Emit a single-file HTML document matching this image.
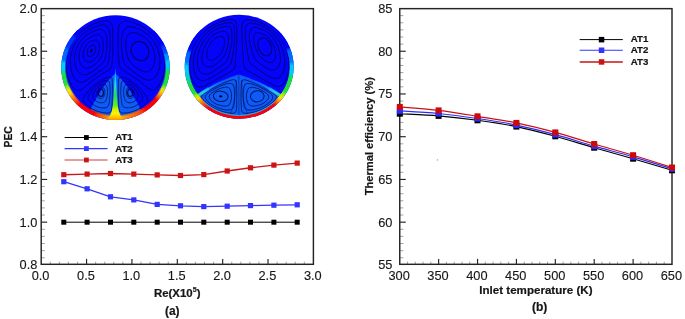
<!DOCTYPE html>
<html lang="en"><head><meta charset="utf-8"><title>PEC and thermal efficiency</title>
<style>html,body{margin:0;padding:0;background:#fff}svg{display:block;filter:blur(0.35px)}text{font-family:"Liberation Sans",Arial,Helvetica,sans-serif;fill:#161616;stroke:#161616;stroke-width:0.12px}.b{font-weight:bold;stroke:#161616;stroke-width:0.2px}</style></head><body>
<svg width="685" height="319" viewBox="0 0 685 319">
<rect width="685" height="319" fill="#ffffff"/>
<defs>
<filter id="bl" x="-10%" y="-10%" width="120%" height="120%"><feGaussianBlur stdDeviation="0.7"/></filter>
<filter id="bl2" x="-10%" y="-10%" width="120%" height="120%"><feGaussianBlur stdDeviation="0.45"/></filter>
<filter id="soft" x="-5%" y="-5%" width="110%" height="110%"><feGaussianBlur stdDeviation="0.55"/></filter>
</defs>
<clipPath id="cp1"><ellipse cx="115.5" cy="67.6" rx="54.3" ry="52.4"/></clipPath>
<g clip-path="url(#cp1)">
<rect x="55" y="10" width="125" height="115" fill="#0404fb"/>
<g filter="url(#bl2)">
<path d="M115.3 73.5 Q104 83 91 108 L91 122 L140 122 L140 108 Q127 83 115.3 73.5 Z" fill="#0d5cf8"/>
</g>
<g filter="url(#soft)">
<path d="M95.6 50.0Q95.6 50.6 95.4 51.1Q95.3 51.6 95.1 52.1Q94.9 52.6 94.7 53.0Q94.4 53.5 94.1 54.0Q93.7 54.5 93.3 55.0Q92.8 55.5 92.2 55.9Q91.5 56.4 90.7 56.5Q89.9 56.7 89.1 56.4Q88.3 56.1 87.9 55.4Q87.4 54.7 87.3 53.9Q87.2 53.1 87.2 52.4Q87.2 51.8 87.3 51.2Q87.4 50.6 87.5 50.1Q87.7 49.6 87.9 49.1Q88.1 48.6 88.4 48.2Q88.7 47.8 89.0 47.4Q89.4 47.0 89.9 46.6Q90.3 46.3 90.9 45.9Q91.5 45.6 92.2 45.3Q93.0 45.0 93.8 45.1Q94.6 45.2 95.1 45.9Q95.5 46.6 95.6 47.4Q95.7 48.2 95.7 48.8Q95.7 49.5 95.6 50.0Z" fill="none" stroke="#00003a" stroke-width="0.95" stroke-opacity="0.72"/>
<path d="M99.3 49.5Q99.2 50.6 99.0 51.6Q98.7 52.5 98.4 53.5Q98.1 54.4 97.6 55.3Q97.1 56.2 96.4 57.1Q95.8 58.0 94.9 58.9Q94.0 59.8 92.7 60.7Q91.5 61.5 89.9 61.9Q88.4 62.3 86.9 61.7Q85.4 61.1 84.6 59.7Q83.7 58.4 83.5 56.9Q83.2 55.4 83.2 54.1Q83.3 52.8 83.5 51.7Q83.7 50.6 84.0 49.6Q84.3 48.7 84.7 47.8Q85.1 46.9 85.6 46.1Q86.1 45.2 86.9 44.5Q87.6 43.8 88.4 43.1Q89.3 42.4 90.4 41.8Q91.5 41.1 92.9 40.6Q94.3 40.0 95.9 40.2Q97.4 40.3 98.3 41.6Q99.1 43.0 99.3 44.5Q99.4 46.0 99.4 47.3Q99.4 48.5 99.3 49.5Z" fill="none" stroke="#00003a" stroke-width="0.95" stroke-opacity="0.72"/>
<path d="M103.0 49.8Q102.9 50.6 102.8 51.3Q102.6 52.1 102.4 52.8Q102.3 53.5 102.1 54.2Q101.9 54.9 101.6 55.6Q101.4 56.3 101.1 57.0Q100.8 57.7 100.4 58.4Q100.0 59.1 99.5 59.8Q99.0 60.4 98.5 61.0Q97.9 61.7 97.3 62.3Q96.6 63.0 95.9 63.6Q95.2 64.3 94.3 64.9Q93.5 65.5 92.5 66.2Q91.5 66.8 90.4 67.3Q89.2 67.8 88.0 68.1Q86.7 68.3 85.5 68.1Q84.3 67.9 83.3 67.2Q82.3 66.5 81.5 65.5Q80.8 64.6 80.3 63.4Q79.8 62.3 79.5 61.1Q79.3 60.0 79.1 58.9Q79.0 57.8 79.0 56.8Q79.0 55.8 79.1 54.8Q79.2 53.9 79.4 53.0Q79.5 52.2 79.7 51.4Q79.9 50.6 80.1 49.9Q80.3 49.1 80.6 48.4Q80.8 47.7 81.1 47.1Q81.4 46.4 81.7 45.8Q82.0 45.1 82.3 44.5Q82.7 43.8 83.1 43.3Q83.6 42.7 84.1 42.2Q84.6 41.6 85.2 41.1Q85.7 40.6 86.3 40.1Q86.9 39.6 87.6 39.1Q88.3 38.6 89.0 38.1Q89.8 37.6 90.6 37.2Q91.5 36.7 92.5 36.3Q93.4 35.8 94.6 35.4Q95.7 35.0 96.9 34.8Q98.2 34.5 99.2 34.9Q100.3 35.4 101.0 36.3Q101.8 37.2 102.3 38.2Q102.8 39.3 103.0 40.5Q103.1 41.7 103.1 42.8Q103.1 43.9 103.1 44.8Q103.1 45.8 103.1 46.6Q103.1 47.5 103.1 48.3Q103.1 49.1 103.0 49.8Z" fill="none" stroke="#00003a" stroke-width="0.95" stroke-opacity="0.72"/>
<path d="M106.8 49.6Q106.6 50.6 106.5 51.6Q106.3 52.6 106.2 53.5Q106.0 54.5 105.8 55.5Q105.6 56.4 105.3 57.4Q105.1 58.4 104.7 59.4Q104.4 60.5 103.8 61.4Q103.3 62.4 102.5 63.2Q101.8 64.0 101.0 64.8Q100.1 65.6 99.2 66.4Q98.4 67.1 97.4 68.0Q96.4 68.8 95.2 69.6Q94.1 70.4 92.8 71.3Q91.5 72.2 90.0 73.0Q88.4 73.9 86.7 74.6Q84.9 75.2 83.2 75.0Q81.5 74.7 80.1 73.7Q78.7 72.7 77.7 71.3Q76.7 69.8 76.1 68.2Q75.5 66.6 75.2 65.0Q74.8 63.4 74.7 61.9Q74.5 60.4 74.6 59.0Q74.6 57.6 74.7 56.3Q74.9 55.1 75.1 53.9Q75.3 52.7 75.6 51.7Q75.8 50.6 76.2 49.6Q76.5 48.6 76.8 47.7Q77.2 46.8 77.6 45.9Q78.0 45.0 78.4 44.2Q78.9 43.3 79.4 42.5Q79.8 41.7 80.5 40.9Q81.1 40.2 81.8 39.5Q82.4 38.8 83.1 38.1Q83.9 37.4 84.7 36.7Q85.5 36.0 86.4 35.4Q87.2 34.7 88.2 34.1Q89.2 33.5 90.4 32.9Q91.5 32.3 92.8 31.7Q94.1 31.1 95.5 30.6Q97.0 30.1 98.7 29.7Q100.3 29.3 101.8 29.8Q103.2 30.3 104.3 31.4Q105.3 32.6 105.9 34.1Q106.5 35.6 106.7 37.2Q106.8 38.8 106.8 40.3Q106.8 41.8 106.8 43.0Q106.9 44.2 106.9 45.4Q106.9 46.5 106.9 47.5Q106.9 48.6 106.8 49.6Z" fill="none" stroke="#00003a" stroke-width="0.95" stroke-opacity="0.72"/>
<path d="M110.0 49.4Q109.9 50.6 109.8 51.8Q109.7 53.0 109.6 54.2Q109.4 55.4 109.2 56.6Q109.1 57.9 108.9 59.2Q108.7 60.5 108.4 61.9Q108.1 63.3 107.4 64.5Q106.6 65.7 105.6 66.7Q104.5 67.6 103.4 68.4Q102.3 69.2 101.1 70.1Q99.9 71.0 98.7 71.9Q97.5 72.8 96.1 73.8Q94.7 74.8 93.1 75.9Q91.5 77.0 89.6 78.3Q87.7 79.7 85.3 81.1Q82.9 82.6 80.7 82.3Q78.4 82.1 76.7 80.6Q75.0 79.1 73.9 77.1Q72.7 75.0 72.0 72.9Q71.3 70.8 70.9 68.8Q70.5 66.7 70.4 64.8Q70.2 62.9 70.3 61.1Q70.3 59.4 70.5 57.8Q70.8 56.2 71.0 54.7Q71.3 53.3 71.7 51.9Q72.1 50.6 72.5 49.4Q73.0 48.2 73.4 47.0Q73.9 45.9 74.4 44.8Q75.0 43.8 75.5 42.7Q76.1 41.7 76.7 40.7Q77.4 39.8 78.1 38.9Q78.9 38.0 79.7 37.1Q80.5 36.3 81.4 35.4Q82.3 34.6 83.2 33.8Q84.2 32.9 85.3 32.1Q86.3 31.4 87.6 30.6Q88.8 29.8 90.1 29.1Q91.5 28.4 93.1 27.7Q94.6 27.0 96.4 26.3Q98.2 25.7 100.2 25.2Q102.2 24.7 104.1 25.0Q106.0 25.4 107.4 26.8Q108.7 28.1 109.3 30.2Q109.8 32.3 110.0 34.3Q110.1 36.3 110.1 38.1Q110.1 39.9 110.1 41.4Q110.1 42.9 110.1 44.2Q110.1 45.6 110.1 46.9Q110.1 48.1 110.0 49.4Z" fill="none" stroke="#00003a" stroke-width="0.95" stroke-opacity="0.72"/>
<path d="M112.9 49.2Q112.8 50.6 112.7 52.0Q112.7 53.4 112.6 54.8Q112.6 56.2 112.5 57.7Q112.4 59.3 112.3 60.9Q112.1 62.5 112.0 64.4Q111.9 66.2 111.0 67.7Q110.1 69.2 108.6 70.1Q107.2 71.0 105.7 71.8Q104.2 72.7 102.8 73.5Q101.4 74.4 99.9 75.4Q98.4 76.4 96.8 77.5Q95.2 78.6 93.3 79.9Q91.5 81.3 89.2 83.2Q87.0 85.0 83.9 87.8Q80.8 90.5 78.0 90.3Q75.1 90.1 73.3 87.8Q71.4 85.4 70.1 82.8Q68.8 80.1 68.0 77.5Q67.3 74.8 66.8 72.4Q66.4 69.9 66.3 67.6Q66.1 65.2 66.2 63.1Q66.3 61.0 66.6 59.1Q66.9 57.2 67.3 55.5Q67.6 53.7 68.1 52.2Q68.6 50.6 69.2 49.2Q69.8 47.7 70.3 46.4Q70.9 45.1 71.6 43.9Q72.3 42.6 73.0 41.5Q73.7 40.3 74.5 39.2Q75.2 38.1 76.1 37.1Q77.0 36.1 77.9 35.1Q78.8 34.1 79.9 33.1Q80.9 32.2 82.0 31.2Q83.1 30.3 84.3 29.4Q85.6 28.5 87.0 27.6Q88.4 26.7 89.9 25.9Q91.5 25.0 93.3 24.2Q95.1 23.4 97.1 22.7Q99.2 22.0 101.5 21.4Q103.9 20.8 106.3 20.8Q108.7 20.7 110.4 22.3Q112.1 23.8 112.4 26.6Q112.8 29.3 112.8 31.8Q112.9 34.2 112.9 36.2Q112.9 38.3 112.9 40.0Q112.9 41.7 112.9 43.3Q112.9 44.9 112.9 46.3Q112.9 47.8 112.9 49.2Z" fill="none" stroke="#00003a" stroke-width="0.95" stroke-opacity="0.72"/>
<path d="M104.8 92.2Q104.8 92.7 104.7 93.2Q104.7 93.7 104.6 94.2Q104.4 94.7 104.3 95.3Q104.1 95.9 103.8 96.5Q103.5 97.1 102.9 97.6Q102.3 98.1 101.6 98.3Q100.9 98.5 100.2 98.4Q99.4 98.3 98.8 97.9Q98.1 97.5 97.7 96.9Q97.3 96.3 97.0 95.7Q96.7 95.1 96.7 94.5Q96.6 93.9 96.7 93.3Q96.8 92.7 97.0 92.2Q97.2 91.7 97.4 91.2Q97.6 90.8 97.8 90.3Q98.1 89.9 98.5 89.6Q98.9 89.2 99.4 88.9Q99.8 88.6 100.4 88.3Q100.9 87.9 101.6 87.7Q102.3 87.5 103.0 87.7Q103.6 88.0 104.0 88.6Q104.4 89.2 104.6 89.9Q104.7 90.5 104.8 91.1Q104.8 91.7 104.8 92.2Z" fill="none" stroke="#00003a" stroke-width="0.95" stroke-opacity="0.72"/>
<path d="M107.5 91.8Q107.5 92.7 107.4 93.6Q107.3 94.4 107.2 95.3Q107.1 96.3 106.9 97.4Q106.6 98.4 106.2 99.8Q105.7 101.1 104.6 101.9Q103.6 102.7 102.2 102.8Q100.9 103.0 99.6 102.7Q98.3 102.5 97.2 101.8Q96.0 101.1 95.1 100.2Q94.3 99.3 93.6 98.3Q93.0 97.3 92.9 96.1Q92.8 94.9 93.2 93.8Q93.6 92.7 94.1 91.8Q94.5 91.0 94.9 90.2Q95.4 89.5 95.9 88.8Q96.4 88.2 97.0 87.7Q97.7 87.1 98.4 86.6Q99.1 86.1 100.0 85.5Q100.9 85.0 102.1 84.5Q103.2 84.1 104.4 84.3Q105.7 84.5 106.3 85.5Q107.0 86.6 107.2 87.8Q107.4 89.0 107.5 89.9Q107.5 90.9 107.5 91.8Z" fill="none" stroke="#00003a" stroke-width="0.95" stroke-opacity="0.72"/>
<path d="M110.1 92.1Q110.1 92.7 110.1 93.3Q110.1 93.9 110.0 94.5Q110.0 95.1 110.0 95.8Q109.9 96.4 109.8 97.1Q109.8 97.8 109.7 98.6Q109.6 99.4 109.5 100.3Q109.4 101.2 109.3 102.3Q109.1 103.4 108.8 104.7Q108.5 105.9 107.7 106.6Q107.0 107.4 106.0 107.6Q105.0 107.9 103.9 107.9Q102.9 107.9 101.9 107.9Q100.9 107.8 99.9 107.6Q99.0 107.4 98.1 107.1Q97.1 106.8 96.3 106.4Q95.4 106.0 94.6 105.5Q93.8 105.0 93.1 104.4Q92.3 103.9 91.6 103.3Q91.0 102.6 90.3 102.0Q89.7 101.3 89.1 100.6Q88.5 99.8 88.2 98.9Q87.9 98.1 88.1 97.1Q88.3 96.1 88.8 95.2Q89.3 94.2 89.8 93.5Q90.2 92.7 90.6 92.1Q91.1 91.4 91.5 90.8Q91.9 90.3 92.3 89.8Q92.6 89.3 93.0 88.8Q93.4 88.3 93.7 87.9Q94.1 87.5 94.5 87.1Q94.9 86.7 95.3 86.3Q95.7 86.0 96.2 85.6Q96.6 85.3 97.1 85.0Q97.6 84.7 98.1 84.3Q98.5 83.9 99.1 83.6Q99.7 83.2 100.3 82.8Q100.9 82.5 101.6 82.0Q102.4 81.6 103.2 81.3Q104.0 81.0 105.0 80.8Q105.9 80.6 106.9 80.5Q107.9 80.5 108.6 81.1Q109.3 81.8 109.5 82.8Q109.8 83.8 109.8 84.8Q109.9 85.8 110.0 86.6Q110.0 87.4 110.1 88.2Q110.1 88.9 110.1 89.6Q110.1 90.2 110.1 90.9Q110.2 91.5 110.1 92.1Z" fill="none" stroke="#00003a" stroke-width="0.95" stroke-opacity="0.72"/>
<path d="M112.4 91.9Q112.4 92.7 112.4 93.5Q112.4 94.2 112.4 95.0Q112.4 95.8 112.3 96.6Q112.3 97.4 112.3 98.3Q112.2 99.3 112.2 100.3Q112.2 101.4 112.2 102.6Q112.1 103.9 112.0 105.5Q112.0 107.1 111.7 109.1Q111.5 111.1 110.4 112.1Q109.4 113.1 107.9 113.1Q106.4 113.1 105.0 112.9Q103.5 112.8 102.2 112.5Q100.9 112.3 99.7 111.9Q98.4 111.6 97.2 111.2Q96.1 110.7 95.0 110.2Q93.8 109.8 92.8 109.2Q91.7 108.6 90.7 108.0Q89.7 107.3 88.7 106.6Q87.7 105.9 86.8 105.1Q85.8 104.3 84.9 103.4Q83.9 102.5 83.3 101.4Q82.7 100.3 83.2 98.8Q83.7 97.3 84.6 96.0Q85.4 94.7 86.2 93.7Q87.0 92.7 87.7 91.9Q88.3 91.0 89.0 90.4Q89.6 89.7 90.1 89.1Q90.7 88.5 91.2 87.9Q91.7 87.4 92.2 86.9Q92.7 86.4 93.2 86.0Q93.7 85.5 94.2 85.1Q94.7 84.7 95.3 84.3Q95.8 83.9 96.4 83.5Q96.9 83.1 97.5 82.7Q98.1 82.2 98.8 81.8Q99.4 81.4 100.2 80.9Q100.9 80.5 101.8 80.0Q102.6 79.5 103.7 79.0Q104.7 78.5 106.0 78.0Q107.2 77.5 108.7 77.0Q110.2 76.6 111.1 77.4Q112.1 78.2 112.2 79.7Q112.3 81.3 112.3 82.6Q112.3 83.9 112.4 85.0Q112.4 86.1 112.4 87.0Q112.4 87.9 112.4 88.8Q112.4 89.6 112.4 90.4Q112.5 91.2 112.4 91.9Z" fill="none" stroke="#00003a" stroke-width="0.95" stroke-opacity="0.72"/>
<path d="M153.3 49.3Q153.9 51.0 154.3 53.0Q154.7 54.9 154.8 57.3Q154.9 59.6 154.5 62.3Q154.0 65.0 152.6 67.7Q151.1 70.3 148.5 71.4Q145.8 72.6 142.9 71.4Q140.0 70.3 137.8 68.8Q135.6 67.3 134.0 65.8Q132.3 64.3 131.0 62.8Q129.6 61.4 128.8 59.7Q127.9 58.0 127.4 56.2Q127.0 54.5 126.6 52.7Q126.3 51.0 126.0 49.1Q125.8 47.2 125.8 45.0Q125.7 42.8 126.1 40.1Q126.4 37.4 128.0 35.1Q129.5 32.8 132.3 32.6Q135.0 32.5 137.5 33.5Q140.0 34.5 141.9 35.6Q143.8 36.8 145.3 38.0Q146.8 39.2 148.0 40.5Q149.3 41.7 150.3 43.1Q151.3 44.5 152.0 46.0Q152.7 47.6 153.3 49.3Z" fill="none" stroke="#00003a" stroke-width="0.95" stroke-opacity="0.72"/>
<path d="M157.6 48.7Q158.5 51.0 159.1 53.6Q159.7 56.3 159.9 59.5Q160.2 62.6 159.6 66.4Q159.1 70.1 157.3 74.0Q155.5 77.9 151.8 79.7Q148.2 81.4 144.1 79.0Q140.0 76.6 137.1 74.5Q134.3 72.4 132.0 70.7Q129.7 68.9 127.6 67.2Q125.5 65.5 124.4 63.1Q123.2 60.7 122.8 58.2Q122.4 55.7 122.1 53.4Q121.8 51.0 121.6 48.5Q121.5 46.0 121.4 43.1Q121.4 40.3 121.7 36.6Q122.0 33.0 123.9 29.8Q125.9 26.6 129.7 26.7Q133.5 26.8 136.8 28.1Q140.0 29.4 142.5 31.0Q145.0 32.5 146.9 34.0Q148.9 35.6 150.5 37.3Q152.1 38.9 153.4 40.7Q154.7 42.5 155.8 44.5Q156.8 46.5 157.6 48.7Z" fill="none" stroke="#00003a" stroke-width="0.95" stroke-opacity="0.72"/>
<path d="M161.8 49.6Q162.3 51.0 162.8 52.5Q163.3 54.1 163.6 55.7Q164.0 57.4 164.2 59.3Q164.5 61.1 164.6 63.2Q164.7 65.2 164.5 67.5Q164.4 69.7 164.0 72.2Q163.6 74.6 162.8 77.1Q162.0 79.7 160.8 82.2Q159.5 84.8 157.7 87.1Q155.9 89.5 153.3 90.0Q150.6 90.6 147.6 88.0Q144.5 85.4 142.3 83.5Q140.0 81.6 138.2 80.2Q136.3 78.8 134.7 77.7Q133.1 76.6 131.7 75.6Q130.2 74.6 128.8 73.7Q127.4 72.8 126.0 72.0Q124.6 71.1 123.1 70.3Q121.6 69.4 120.6 68.1Q119.5 66.7 119.3 64.9Q119.0 63.1 118.9 61.5Q118.8 59.8 118.7 58.3Q118.6 56.7 118.5 55.3Q118.4 53.8 118.3 52.4Q118.2 51.0 118.2 49.6Q118.1 48.1 118.1 46.6Q118.0 45.1 118.1 43.5Q118.1 41.9 118.0 40.1Q118.0 38.3 118.1 36.3Q118.1 34.2 118.2 31.8Q118.3 29.3 118.8 26.6Q119.2 23.9 121.0 22.6Q122.8 21.2 125.2 21.2Q127.7 21.2 130.0 21.8Q132.3 22.4 134.4 23.2Q136.4 23.9 138.2 24.7Q140.0 25.5 141.6 26.4Q143.1 27.3 144.5 28.2Q145.9 29.1 147.1 30.0Q148.3 30.9 149.4 31.9Q150.5 32.8 151.5 33.8Q152.5 34.8 153.4 35.7Q154.3 36.7 155.1 37.7Q156.0 38.8 156.7 39.8Q157.5 40.9 158.1 42.1Q158.8 43.2 159.5 44.4Q160.1 45.6 160.7 46.9Q161.3 48.2 161.8 49.6Z" fill="none" stroke="#00003a" stroke-width="0.95" stroke-opacity="0.72"/>
<path d="M134.0 92.2Q134.2 92.7 134.3 93.3Q134.4 93.8 134.4 94.4Q134.3 95.1 134.0 95.7Q133.8 96.3 133.3 96.8Q132.9 97.4 132.3 97.8Q131.7 98.2 130.9 98.3Q130.2 98.4 129.5 98.2Q128.8 98.0 128.2 97.5Q127.7 97.1 127.4 96.5Q127.0 95.9 126.9 95.3Q126.7 94.7 126.6 94.2Q126.5 93.7 126.4 93.2Q126.4 92.7 126.3 92.2Q126.3 91.7 126.4 91.1Q126.4 90.5 126.6 89.9Q126.7 89.2 127.1 88.7Q127.6 88.1 128.2 87.8Q128.8 87.6 129.5 87.8Q130.2 88.0 130.7 88.4Q131.3 88.7 131.7 89.0Q132.1 89.3 132.5 89.7Q132.9 90.0 133.2 90.4Q133.5 90.8 133.7 91.3Q133.9 91.7 134.0 92.2Z" fill="none" stroke="#00003a" stroke-width="0.95" stroke-opacity="0.72"/>
<path d="M136.9 91.9Q137.3 92.7 137.7 93.8Q138.1 94.8 138.0 96.0Q138.0 97.2 137.3 98.2Q136.7 99.2 135.9 100.1Q135.0 101.0 133.9 101.7Q132.8 102.3 131.5 102.6Q130.2 102.9 128.9 102.7Q127.6 102.5 126.5 101.8Q125.4 101.0 124.9 99.7Q124.4 98.5 124.2 97.4Q124.0 96.3 123.9 95.4Q123.7 94.4 123.7 93.6Q123.6 92.7 123.6 91.8Q123.6 90.9 123.6 89.9Q123.7 88.9 123.9 87.7Q124.0 86.5 124.8 85.6Q125.5 84.6 126.7 84.4Q127.9 84.3 129.1 84.7Q130.2 85.2 131.1 85.7Q131.9 86.3 132.6 86.8Q133.3 87.3 134.0 87.8Q134.6 88.3 135.1 89.0Q135.6 89.6 136.0 90.3Q136.4 91.0 136.9 91.9Z" fill="none" stroke="#00003a" stroke-width="0.95" stroke-opacity="0.72"/>
<path d="M140.2 92.1Q140.6 92.7 141.0 93.4Q141.5 94.2 142.0 95.1Q142.5 96.0 142.7 97.0Q142.9 98.0 142.7 98.9Q142.4 99.8 141.8 100.5Q141.3 101.2 140.7 101.9Q140.0 102.5 139.4 103.1Q138.7 103.8 138.0 104.3Q137.2 104.9 136.4 105.4Q135.7 105.9 134.8 106.3Q133.9 106.6 133.0 107.0Q132.1 107.3 131.2 107.5Q130.2 107.6 129.2 107.7Q128.2 107.8 127.2 107.8Q126.2 107.8 125.2 107.6Q124.1 107.3 123.3 106.7Q122.5 106.0 122.2 104.8Q121.8 103.6 121.7 102.5Q121.5 101.4 121.4 100.4Q121.3 99.5 121.2 98.7Q121.2 97.9 121.1 97.2Q121.0 96.5 121.0 95.8Q120.9 95.2 120.9 94.6Q120.8 93.9 120.8 93.3Q120.8 92.7 120.8 92.1Q120.8 91.5 120.8 90.8Q120.8 90.2 120.8 89.5Q120.8 88.8 120.9 88.1Q120.9 87.3 121.0 86.5Q121.0 85.7 121.1 84.7Q121.2 83.7 121.5 82.7Q121.8 81.7 122.5 81.2Q123.2 80.6 124.3 80.7Q125.3 80.8 126.2 81.0Q127.1 81.2 128.0 81.5Q128.8 81.9 129.5 82.3Q130.2 82.7 130.8 83.1Q131.4 83.5 132.0 83.8Q132.5 84.1 133.0 84.5Q133.4 84.9 133.9 85.2Q134.4 85.5 134.8 85.8Q135.2 86.2 135.6 86.5Q136.0 86.9 136.4 87.3Q136.8 87.7 137.1 88.1Q137.5 88.5 137.9 88.9Q138.2 89.4 138.6 89.9Q138.9 90.4 139.4 90.9Q139.8 91.4 140.2 92.1Z" fill="none" stroke="#00003a" stroke-width="0.95" stroke-opacity="0.72"/>
<path d="M143.1 91.9Q143.7 92.7 144.5 93.7Q145.2 94.7 146.1 95.9Q147.0 97.2 147.6 98.7Q148.2 100.2 147.6 101.3Q147.1 102.4 146.1 103.3Q145.2 104.2 144.2 105.0Q143.3 105.8 142.3 106.5Q141.4 107.2 140.3 107.9Q139.3 108.5 138.3 109.1Q137.2 109.7 136.1 110.2Q135.0 110.7 133.8 111.1Q132.7 111.5 131.4 111.9Q130.2 112.2 128.9 112.5Q127.6 112.7 126.2 112.9Q124.8 113.0 123.3 113.1Q121.7 113.1 120.6 112.3Q119.4 111.5 119.1 109.5Q118.8 107.6 118.7 105.9Q118.6 104.3 118.6 103.0Q118.6 101.6 118.5 100.6Q118.5 99.5 118.5 98.5Q118.4 97.6 118.4 96.7Q118.4 95.9 118.3 95.1Q118.3 94.3 118.3 93.5Q118.3 92.7 118.3 91.9Q118.3 91.1 118.3 90.3Q118.3 89.5 118.3 88.7Q118.4 87.8 118.4 86.8Q118.4 85.9 118.4 84.8Q118.4 83.7 118.4 82.3Q118.5 81.0 118.7 79.4Q118.8 77.9 119.9 77.3Q121.0 76.7 122.5 77.2Q124.0 77.7 125.2 78.2Q126.5 78.7 127.5 79.2Q128.5 79.7 129.3 80.2Q130.2 80.7 130.9 81.2Q131.7 81.7 132.3 82.1Q132.9 82.5 133.5 82.9Q134.1 83.4 134.6 83.7Q135.2 84.1 135.7 84.5Q136.2 84.9 136.7 85.3Q137.2 85.7 137.6 86.2Q138.1 86.6 138.6 87.1Q139.1 87.6 139.6 88.1Q140.1 88.6 140.7 89.2Q141.2 89.8 141.8 90.4Q142.4 91.1 143.1 91.9Z" fill="none" stroke="#00003a" stroke-width="0.95" stroke-opacity="0.72"/>
<ellipse cx="91.5" cy="50.6" rx="1.1" ry="1.9" transform="rotate(20 91.5 50.6)" fill="#000022"/>
<ellipse cx="140.0" cy="51.0" rx="8.6" ry="10.0" transform="rotate(-30 140.0 51.0)" fill="none" stroke="#00003a" stroke-width="1.30" stroke-opacity="0.75"/>
<ellipse cx="100.9" cy="92.7" rx="2.5" ry="3.7" transform="rotate(0 100.9 92.7)" fill="none" stroke="#00003a" stroke-width="1.20" stroke-opacity="0.90"/>
<ellipse cx="130.2" cy="92.7" rx="2.5" ry="3.7" transform="rotate(0 130.2 92.7)" fill="none" stroke="#00003a" stroke-width="1.20" stroke-opacity="0.90"/>
</g>
<g filter="url(#bl)">
<g fill="none" stroke-width="9.00" stroke-linecap="butt" opacity="0.50"><path d="M77.78 29.91L76.05 31.60" stroke="rgb(4,4,251)"/><path d="M76.44 31.20L74.77 32.95" stroke="rgb(4,4,251)"/><path d="M75.15 32.54L73.54 34.34" stroke="rgb(4,4,251)"/><path d="M73.90 33.92L72.36 35.77" stroke="rgb(3,19,252)"/><path d="M72.71 35.34L71.24 37.25" stroke="rgb(1,42,254)"/><path d="M71.57 36.80L70.17 38.75" stroke="rgb(0,51,255)"/><path d="M70.48 38.30L69.15 40.30" stroke="rgb(0,51,255)"/><path d="M69.45 39.83L68.19 41.88" stroke="rgb(0,52,255)"/><path d="M68.47 41.40L67.29 43.49" stroke="rgb(0,53,255)"/><path d="M67.56 43.00L66.45 45.12" stroke="rgb(0,54,255)"/><path d="M66.70 44.63L65.67 46.79" stroke="rgb(0,55,255)"/><path d="M65.89 46.29L64.94 48.48" stroke="rgb(0,71,255)"/><path d="M65.15 47.97L64.28 50.19" stroke="rgb(0,96,255)"/><path d="M64.47 49.68L63.68 51.93" stroke="rgb(0,106,255)"/><path d="M63.86 51.41L63.15 53.68" stroke="rgb(0,106,255)"/><path d="M63.30 53.16L62.68 55.46" stroke="rgb(0,107,255)"/><path d="M62.81 54.92L62.27 57.24" stroke="rgb(0,108,255)"/><path d="M62.39 56.71L61.93 59.04" stroke="rgb(0,109,255)"/><path d="M62.02 58.50L61.65 60.85" stroke="rgb(0,110,255)"/><path d="M61.73 60.31L61.44 62.67" stroke="rgb(0,151,251)"/><path d="M61.50 62.12L61.30 64.49" stroke="rgb(0,205,245)"/><path d="M61.33 63.94L61.22 66.32" stroke="rgb(0,205,245)"/><path d="M61.23 65.77L61.20 68.15" stroke="rgb(0,205,245)"/><path d="M61.20 67.60L61.26 69.98" stroke="rgb(0,205,245)"/><path d="M61.23 69.43L61.37 71.80" stroke="rgb(0,212,204)"/><path d="M61.33 71.26L61.56 73.62" stroke="rgb(3,220,141)"/><path d="M61.50 73.08L61.81 75.44" stroke="rgb(23,224,81)"/><path d="M61.73 74.89L62.13 77.24" stroke="rgb(30,225,60)"/><path d="M62.02 76.70L62.51 79.03" stroke="rgb(30,225,60)"/><path d="M62.39 78.49L62.95 80.81" stroke="rgb(30,225,60)"/><path d="M62.81 80.28L63.46 82.57" stroke="rgb(30,225,60)"/><path d="M63.30 82.04L64.04 84.31" stroke="rgb(30,225,60)"/><path d="M63.86 83.79L64.67 86.04" stroke="rgb(39,226,57)"/><path d="M64.47 85.52L65.37 87.74" stroke="rgb(99,234,37)"/><path d="M65.15 87.23L66.13 89.41" stroke="rgb(156,240,19)"/><path d="M65.89 88.91L66.95 91.06" stroke="rgb(196,240,9)"/><path d="M66.70 90.57L67.83 92.68" stroke="rgb(232,238,0)"/><path d="M67.56 92.20L68.76 94.27" stroke="rgb(244,223,0)"/><path d="M68.47 93.80L69.75 95.83" stroke="rgb(255,206,0)"/><path d="M69.45 95.37L70.80 97.36" stroke="rgb(255,178,0)"/><path d="M70.48 96.90L71.91 98.84" stroke="rgb(255,150,0)"/><path d="M71.57 98.40L73.06 100.29" stroke="rgb(255,125,0)"/><path d="M72.71 99.86L74.27 101.70" stroke="rgb(255,102,0)"/><path d="M73.90 101.28L75.53 103.07" stroke="rgb(255,78,0)"/><path d="M75.15 102.66L76.84 104.39" stroke="rgb(255,52,0)"/><path d="M76.44 104.00L78.19 105.67" stroke="rgb(255,24,0)"/><path d="M77.78 105.29L79.59 106.91" stroke="rgb(255,0,0)"/><path d="M79.17 106.54L81.03 108.09" stroke="rgb(255,0,0)"/><path d="M80.60 107.74L82.52 109.23" stroke="rgb(255,0,0)"/><path d="M82.07 108.89L84.05 110.31" stroke="rgb(255,0,0)"/><path d="M83.58 109.99L85.61 111.35" stroke="rgb(255,0,0)"/><path d="M85.14 111.04L87.21 112.33" stroke="rgb(255,0,0)"/><path d="M86.73 112.04L88.84 113.25" stroke="rgb(255,0,0)"/><path d="M88.35 112.98L90.51 114.12" stroke="rgb(255,0,0)"/><path d="M90.01 113.87L92.21 114.93" stroke="rgb(255,0,0)"/><path d="M91.70 114.70L93.93 115.69" stroke="rgb(255,0,0)"/><path d="M93.41 115.47L95.69 116.39" stroke="rgb(255,16,0)"/><path d="M95.16 116.18L97.46 117.02" stroke="rgb(255,41,0)"/><path d="M96.93 116.84L99.26 117.60" stroke="rgb(255,61,0)"/><path d="M98.72 117.44L101.08 118.12" stroke="rgb(255,78,0)"/><path d="M100.53 117.97L102.92 118.57" stroke="rgb(255,94,0)"/><path d="M102.36 118.44L104.77 118.97" stroke="rgb(255,108,0)"/><path d="M104.21 118.85L106.63 119.30" stroke="rgb(255,121,0)"/><path d="M106.07 119.20L108.51 119.56" stroke="rgb(255,133,0)"/><path d="M107.94 119.49L110.39 119.77" stroke="rgb(255,146,0)"/><path d="M109.82 119.71L112.28 119.91" stroke="rgb(255,161,0)"/><path d="M111.71 119.87L114.17 119.98" stroke="rgb(255,178,0)"/><path d="M113.60 119.97L116.07 120.00" stroke="rgb(255,194,0)"/><path d="M115.50 120.00L117.96 119.95" stroke="rgb(255,194,0)"/><path d="M117.40 119.97L119.85 119.83" stroke="rgb(255,184,0)"/><path d="M119.29 119.87L121.74 119.65" stroke="rgb(255,174,0)"/><path d="M121.18 119.71L123.62 119.41" stroke="rgb(255,164,0)"/><path d="M123.06 119.49L125.49 119.11" stroke="rgb(255,155,0)"/><path d="M124.93 119.20L127.35 118.74" stroke="rgb(255,146,0)"/><path d="M126.79 118.85L129.19 118.31" stroke="rgb(255,138,0)"/><path d="M128.64 118.44L131.01 117.82" stroke="rgb(255,130,0)"/><path d="M130.47 117.97L132.82 117.26" stroke="rgb(255,121,0)"/><path d="M132.28 117.44L134.61 116.65" stroke="rgb(255,113,0)"/><path d="M134.07 116.84L136.37 115.98" stroke="rgb(255,104,0)"/><path d="M135.84 116.18L138.10 115.24" stroke="rgb(255,94,0)"/><path d="M137.59 115.47L139.81 114.45" stroke="rgb(255,84,0)"/><path d="M139.30 114.70L141.49 113.61" stroke="rgb(255,74,0)"/><path d="M140.99 113.87L143.14 112.70" stroke="rgb(255,64,0)"/><path d="M142.65 112.98L144.76 111.74" stroke="rgb(255,47,0)"/><path d="M144.27 112.04L146.33 110.73" stroke="rgb(255,27,0)"/><path d="M145.86 111.04L147.88 109.67" stroke="rgb(255,7,0)"/><path d="M147.42 109.99L149.38 108.55" stroke="rgb(255,0,0)"/><path d="M148.93 108.89L150.84 107.39" stroke="rgb(255,0,0)"/><path d="M150.40 107.74L152.25 106.17" stroke="rgb(255,0,0)"/><path d="M151.83 106.54L153.63 104.91" stroke="rgb(255,0,0)"/><path d="M153.22 105.29L154.95 103.60" stroke="rgb(255,0,0)"/><path d="M154.56 104.00L156.23 102.25" stroke="rgb(255,0,0)"/><path d="M155.85 102.66L157.46 100.86" stroke="rgb(255,0,0)"/><path d="M157.10 101.28L158.64 99.43" stroke="rgb(255,7,0)"/><path d="M158.29 99.86L159.76 97.95" stroke="rgb(255,52,0)"/><path d="M159.43 98.40L160.83 96.45" stroke="rgb(255,96,0)"/><path d="M160.52 96.90L161.85 94.90" stroke="rgb(255,136,0)"/><path d="M161.55 95.37L162.81 93.32" stroke="rgb(255,171,0)"/><path d="M162.53 93.80L163.71 91.71" stroke="rgb(255,204,0)"/><path d="M163.44 92.20L164.55 90.08" stroke="rgb(240,226,0)"/><path d="M164.30 90.57L165.33 88.41" stroke="rgb(210,240,3)"/><path d="M165.11 88.91L166.06 86.72" stroke="rgb(143,236,23)"/><path d="M165.85 87.23L166.72 85.01" stroke="rgb(81,231,43)"/><path d="M166.53 85.52L167.32 83.27" stroke="rgb(30,225,60)"/><path d="M167.14 83.79L167.85 81.52" stroke="rgb(30,225,60)"/><path d="M167.70 82.04L168.32 79.74" stroke="rgb(30,225,60)"/><path d="M168.19 80.28L168.73 77.96" stroke="rgb(30,225,60)"/><path d="M168.61 78.49L169.07 76.16" stroke="rgb(30,225,60)"/><path d="M168.98 76.70L169.35 74.35" stroke="rgb(30,225,60)"/><path d="M169.27 74.89L169.56 72.53" stroke="rgb(30,225,60)"/><path d="M169.50 73.08L169.70 70.71" stroke="rgb(27,224,69)"/><path d="M169.67 71.26L169.78 68.88" stroke="rgb(7,221,129)"/><path d="M169.77 69.43L169.80 67.05" stroke="rgb(0,214,191)"/><path d="M169.80 67.60L169.74 65.22" stroke="rgb(0,205,245)"/><path d="M169.77 65.77L169.63 63.40" stroke="rgb(0,205,245)"/><path d="M169.67 63.94L169.44 61.58" stroke="rgb(0,205,245)"/><path d="M169.50 62.12L169.19 59.76" stroke="rgb(0,200,246)"/><path d="M169.27 60.31L168.87 57.96" stroke="rgb(0,163,253)"/><path d="M168.98 58.50L168.49 56.17" stroke="rgb(0,149,255)"/><path d="M168.61 56.71L168.05 54.39" stroke="rgb(0,147,255)"/><path d="M168.19 54.92L167.54 52.63" stroke="rgb(0,138,255)"/><path d="M167.70 53.16L166.96 50.89" stroke="rgb(0,88,255)"/><path d="M167.14 51.41L166.33 49.16" stroke="rgb(0,69,255)"/><path d="M166.53 49.68L165.63 47.46" stroke="rgb(0,67,255)"/><path d="M165.85 47.97L164.87 45.79" stroke="rgb(0,66,255)"/><path d="M165.11 46.29L164.05 44.14" stroke="rgb(1,45,254)"/><path d="M164.30 44.63L163.17 42.52" stroke="rgb(3,15,252)"/><path d="M163.44 43.00L162.24 40.93" stroke="rgb(4,4,251)"/><path d="M162.53 41.40L161.25 39.37" stroke="rgb(4,4,251)"/><path d="M161.55 39.83L160.20 37.84" stroke="rgb(4,4,251)"/><path d="M160.52 38.30L159.09 36.36" stroke="rgb(4,4,251)"/><path d="M159.43 36.80L157.94 34.91" stroke="rgb(4,4,251)"/><path d="M158.29 35.34L156.73 33.50" stroke="rgb(4,4,251)"/><path d="M157.10 33.92L155.47 32.13" stroke="rgb(4,4,251)"/><path d="M155.85 32.54L154.16 30.81" stroke="rgb(4,4,251)"/></g>
<g fill="none" stroke-width="7.40" stroke-linecap="butt" opacity="1.00"><path d="M77.78 29.91L76.05 31.60" stroke="rgb(4,4,251)"/><path d="M76.44 31.20L74.77 32.95" stroke="rgb(4,4,251)"/><path d="M75.15 32.54L73.54 34.34" stroke="rgb(4,4,251)"/><path d="M73.90 33.92L72.36 35.77" stroke="rgb(3,19,252)"/><path d="M72.71 35.34L71.24 37.25" stroke="rgb(1,42,254)"/><path d="M71.57 36.80L70.17 38.75" stroke="rgb(0,51,255)"/><path d="M70.48 38.30L69.15 40.30" stroke="rgb(0,51,255)"/><path d="M69.45 39.83L68.19 41.88" stroke="rgb(0,52,255)"/><path d="M68.47 41.40L67.29 43.49" stroke="rgb(0,53,255)"/><path d="M67.56 43.00L66.45 45.12" stroke="rgb(0,54,255)"/><path d="M66.70 44.63L65.67 46.79" stroke="rgb(0,55,255)"/><path d="M65.89 46.29L64.94 48.48" stroke="rgb(0,71,255)"/><path d="M65.15 47.97L64.28 50.19" stroke="rgb(0,96,255)"/><path d="M64.47 49.68L63.68 51.93" stroke="rgb(0,106,255)"/><path d="M63.86 51.41L63.15 53.68" stroke="rgb(0,106,255)"/><path d="M63.30 53.16L62.68 55.46" stroke="rgb(0,107,255)"/><path d="M62.81 54.92L62.27 57.24" stroke="rgb(0,108,255)"/><path d="M62.39 56.71L61.93 59.04" stroke="rgb(0,109,255)"/><path d="M62.02 58.50L61.65 60.85" stroke="rgb(0,110,255)"/><path d="M61.73 60.31L61.44 62.67" stroke="rgb(0,151,251)"/><path d="M61.50 62.12L61.30 64.49" stroke="rgb(0,205,245)"/><path d="M61.33 63.94L61.22 66.32" stroke="rgb(0,205,245)"/><path d="M61.23 65.77L61.20 68.15" stroke="rgb(0,205,245)"/><path d="M61.20 67.60L61.26 69.98" stroke="rgb(0,205,245)"/><path d="M61.23 69.43L61.37 71.80" stroke="rgb(0,212,204)"/><path d="M61.33 71.26L61.56 73.62" stroke="rgb(3,220,141)"/><path d="M61.50 73.08L61.81 75.44" stroke="rgb(23,224,81)"/><path d="M61.73 74.89L62.13 77.24" stroke="rgb(30,225,60)"/><path d="M62.02 76.70L62.51 79.03" stroke="rgb(30,225,60)"/><path d="M62.39 78.49L62.95 80.81" stroke="rgb(30,225,60)"/><path d="M62.81 80.28L63.46 82.57" stroke="rgb(30,225,60)"/><path d="M63.30 82.04L64.04 84.31" stroke="rgb(30,225,60)"/><path d="M63.86 83.79L64.67 86.04" stroke="rgb(39,226,57)"/><path d="M64.47 85.52L65.37 87.74" stroke="rgb(99,234,37)"/><path d="M65.15 87.23L66.13 89.41" stroke="rgb(156,240,19)"/><path d="M65.89 88.91L66.95 91.06" stroke="rgb(196,240,9)"/><path d="M66.70 90.57L67.83 92.68" stroke="rgb(232,238,0)"/><path d="M67.56 92.20L68.76 94.27" stroke="rgb(244,223,0)"/><path d="M68.47 93.80L69.75 95.83" stroke="rgb(255,206,0)"/><path d="M69.45 95.37L70.80 97.36" stroke="rgb(255,178,0)"/><path d="M70.48 96.90L71.91 98.84" stroke="rgb(255,150,0)"/><path d="M71.57 98.40L73.06 100.29" stroke="rgb(255,125,0)"/><path d="M72.71 99.86L74.27 101.70" stroke="rgb(255,102,0)"/><path d="M73.90 101.28L75.53 103.07" stroke="rgb(255,78,0)"/><path d="M75.15 102.66L76.84 104.39" stroke="rgb(255,52,0)"/><path d="M76.44 104.00L78.19 105.67" stroke="rgb(255,24,0)"/><path d="M77.78 105.29L79.59 106.91" stroke="rgb(255,0,0)"/><path d="M79.17 106.54L81.03 108.09" stroke="rgb(255,0,0)"/><path d="M80.60 107.74L82.52 109.23" stroke="rgb(255,0,0)"/><path d="M82.07 108.89L84.05 110.31" stroke="rgb(255,0,0)"/><path d="M83.58 109.99L85.61 111.35" stroke="rgb(255,0,0)"/><path d="M85.14 111.04L87.21 112.33" stroke="rgb(255,0,0)"/><path d="M86.73 112.04L88.84 113.25" stroke="rgb(255,0,0)"/><path d="M88.35 112.98L90.51 114.12" stroke="rgb(255,0,0)"/><path d="M90.01 113.87L92.21 114.93" stroke="rgb(255,0,0)"/><path d="M91.70 114.70L93.93 115.69" stroke="rgb(255,0,0)"/><path d="M93.41 115.47L95.69 116.39" stroke="rgb(255,16,0)"/><path d="M95.16 116.18L97.46 117.02" stroke="rgb(255,41,0)"/><path d="M96.93 116.84L99.26 117.60" stroke="rgb(255,61,0)"/><path d="M98.72 117.44L101.08 118.12" stroke="rgb(255,78,0)"/><path d="M100.53 117.97L102.92 118.57" stroke="rgb(255,94,0)"/><path d="M102.36 118.44L104.77 118.97" stroke="rgb(255,108,0)"/><path d="M104.21 118.85L106.63 119.30" stroke="rgb(255,121,0)"/><path d="M106.07 119.20L108.51 119.56" stroke="rgb(255,133,0)"/><path d="M107.94 119.49L110.39 119.77" stroke="rgb(255,146,0)"/><path d="M109.82 119.71L112.28 119.91" stroke="rgb(255,161,0)"/><path d="M111.71 119.87L114.17 119.98" stroke="rgb(255,178,0)"/><path d="M113.60 119.97L116.07 120.00" stroke="rgb(255,194,0)"/><path d="M115.50 120.00L117.96 119.95" stroke="rgb(255,194,0)"/><path d="M117.40 119.97L119.85 119.83" stroke="rgb(255,184,0)"/><path d="M119.29 119.87L121.74 119.65" stroke="rgb(255,174,0)"/><path d="M121.18 119.71L123.62 119.41" stroke="rgb(255,164,0)"/><path d="M123.06 119.49L125.49 119.11" stroke="rgb(255,155,0)"/><path d="M124.93 119.20L127.35 118.74" stroke="rgb(255,146,0)"/><path d="M126.79 118.85L129.19 118.31" stroke="rgb(255,138,0)"/><path d="M128.64 118.44L131.01 117.82" stroke="rgb(255,130,0)"/><path d="M130.47 117.97L132.82 117.26" stroke="rgb(255,121,0)"/><path d="M132.28 117.44L134.61 116.65" stroke="rgb(255,113,0)"/><path d="M134.07 116.84L136.37 115.98" stroke="rgb(255,104,0)"/><path d="M135.84 116.18L138.10 115.24" stroke="rgb(255,94,0)"/><path d="M137.59 115.47L139.81 114.45" stroke="rgb(255,84,0)"/><path d="M139.30 114.70L141.49 113.61" stroke="rgb(255,74,0)"/><path d="M140.99 113.87L143.14 112.70" stroke="rgb(255,64,0)"/><path d="M142.65 112.98L144.76 111.74" stroke="rgb(255,47,0)"/><path d="M144.27 112.04L146.33 110.73" stroke="rgb(255,27,0)"/><path d="M145.86 111.04L147.88 109.67" stroke="rgb(255,7,0)"/><path d="M147.42 109.99L149.38 108.55" stroke="rgb(255,0,0)"/><path d="M148.93 108.89L150.84 107.39" stroke="rgb(255,0,0)"/><path d="M150.40 107.74L152.25 106.17" stroke="rgb(255,0,0)"/><path d="M151.83 106.54L153.63 104.91" stroke="rgb(255,0,0)"/><path d="M153.22 105.29L154.95 103.60" stroke="rgb(255,0,0)"/><path d="M154.56 104.00L156.23 102.25" stroke="rgb(255,0,0)"/><path d="M155.85 102.66L157.46 100.86" stroke="rgb(255,0,0)"/><path d="M157.10 101.28L158.64 99.43" stroke="rgb(255,7,0)"/><path d="M158.29 99.86L159.76 97.95" stroke="rgb(255,52,0)"/><path d="M159.43 98.40L160.83 96.45" stroke="rgb(255,96,0)"/><path d="M160.52 96.90L161.85 94.90" stroke="rgb(255,136,0)"/><path d="M161.55 95.37L162.81 93.32" stroke="rgb(255,171,0)"/><path d="M162.53 93.80L163.71 91.71" stroke="rgb(255,204,0)"/><path d="M163.44 92.20L164.55 90.08" stroke="rgb(240,226,0)"/><path d="M164.30 90.57L165.33 88.41" stroke="rgb(210,240,3)"/><path d="M165.11 88.91L166.06 86.72" stroke="rgb(143,236,23)"/><path d="M165.85 87.23L166.72 85.01" stroke="rgb(81,231,43)"/><path d="M166.53 85.52L167.32 83.27" stroke="rgb(30,225,60)"/><path d="M167.14 83.79L167.85 81.52" stroke="rgb(30,225,60)"/><path d="M167.70 82.04L168.32 79.74" stroke="rgb(30,225,60)"/><path d="M168.19 80.28L168.73 77.96" stroke="rgb(30,225,60)"/><path d="M168.61 78.49L169.07 76.16" stroke="rgb(30,225,60)"/><path d="M168.98 76.70L169.35 74.35" stroke="rgb(30,225,60)"/><path d="M169.27 74.89L169.56 72.53" stroke="rgb(30,225,60)"/><path d="M169.50 73.08L169.70 70.71" stroke="rgb(27,224,69)"/><path d="M169.67 71.26L169.78 68.88" stroke="rgb(7,221,129)"/><path d="M169.77 69.43L169.80 67.05" stroke="rgb(0,214,191)"/><path d="M169.80 67.60L169.74 65.22" stroke="rgb(0,205,245)"/><path d="M169.77 65.77L169.63 63.40" stroke="rgb(0,205,245)"/><path d="M169.67 63.94L169.44 61.58" stroke="rgb(0,205,245)"/><path d="M169.50 62.12L169.19 59.76" stroke="rgb(0,200,246)"/><path d="M169.27 60.31L168.87 57.96" stroke="rgb(0,163,253)"/><path d="M168.98 58.50L168.49 56.17" stroke="rgb(0,149,255)"/><path d="M168.61 56.71L168.05 54.39" stroke="rgb(0,147,255)"/><path d="M168.19 54.92L167.54 52.63" stroke="rgb(0,138,255)"/><path d="M167.70 53.16L166.96 50.89" stroke="rgb(0,88,255)"/><path d="M167.14 51.41L166.33 49.16" stroke="rgb(0,69,255)"/><path d="M166.53 49.68L165.63 47.46" stroke="rgb(0,67,255)"/><path d="M165.85 47.97L164.87 45.79" stroke="rgb(0,66,255)"/><path d="M165.11 46.29L164.05 44.14" stroke="rgb(1,45,254)"/><path d="M164.30 44.63L163.17 42.52" stroke="rgb(3,15,252)"/><path d="M163.44 43.00L162.24 40.93" stroke="rgb(4,4,251)"/><path d="M162.53 41.40L161.25 39.37" stroke="rgb(4,4,251)"/><path d="M161.55 39.83L160.20 37.84" stroke="rgb(4,4,251)"/><path d="M160.52 38.30L159.09 36.36" stroke="rgb(4,4,251)"/><path d="M159.43 36.80L157.94 34.91" stroke="rgb(4,4,251)"/><path d="M158.29 35.34L156.73 33.50" stroke="rgb(4,4,251)"/><path d="M157.10 33.92L155.47 32.13" stroke="rgb(4,4,251)"/><path d="M155.85 32.54L154.16 30.81" stroke="rgb(4,4,251)"/></g>
</g>
<linearGradient id="fg" x1="0" y1="68" x2="0" y2="120" gradientUnits="userSpaceOnUse"><stop offset="0" stop-color="#1070ff"/><stop offset="0.1" stop-color="#18b0ff"/><stop offset="0.3" stop-color="#18dcf0"/><stop offset="0.42" stop-color="#20e090"/><stop offset="0.52" stop-color="#20e050"/><stop offset="0.72" stop-color="#60ee20"/><stop offset="0.8" stop-color="#d8f000"/><stop offset="0.88" stop-color="#fff000"/><stop offset="0.95" stop-color="#ffc000"/><stop offset="1" stop-color="#ff9000"/></linearGradient>
<g filter="url(#bl2)">
<path d="M115.3 68 L116.1 80 L116.9 96 L117.8 106 L118.9 111.5 L120.6 115.5 L123 118.5 L124.4 121 L106.2 121 L107.6 118.5 L110 115.5 L111.7 111.5 L112.8 106 L113.7 96 L114.5 80 Z" fill="url(#fg)"/>
</g>
</g>
<clipPath id="cp2"><ellipse cx="239.2" cy="66.8" rx="54.5" ry="52.0"/></clipPath>
<g clip-path="url(#cp2)">
<rect x="180" y="10" width="120" height="115" fill="#0404fb"/>
<g filter="url(#bl2)">
<path d="M238.8 74.5 Q226 78 212 86.5 L194 98 L190 125 L288 125 L284.5 98 L266 86.5 Q252 78 238.8 74.5 Z" fill="#0d5cf8"/>
</g>
<g filter="url(#soft)">
<path d="M224.0 46.6Q223.7 47.7 223.3 48.6Q222.9 49.6 222.5 50.4Q222.1 51.2 221.6 52.1Q221.2 52.9 220.6 53.7Q220.0 54.6 219.2 55.5Q218.3 56.4 217.2 57.5Q216.0 58.5 214.3 59.5Q212.6 60.5 210.6 60.4Q208.7 60.4 207.7 58.7Q206.7 57.0 206.7 55.0Q206.7 53.1 207.0 51.5Q207.4 50.0 207.8 48.9Q208.2 47.7 208.7 46.8Q209.1 45.8 209.5 45.0Q210.0 44.2 210.5 43.5Q211.0 42.7 211.6 41.9Q212.2 41.1 213.0 40.2Q213.7 39.3 214.9 38.6Q216.0 37.9 217.5 37.3Q218.9 36.8 220.8 36.5Q222.7 36.2 223.6 37.7Q224.5 39.2 224.5 41.0Q224.5 42.8 224.5 44.1Q224.4 45.4 224.0 46.6Z" fill="none" stroke="#00003a" stroke-width="0.95" stroke-opacity="0.72"/>
<path d="M228.0 46.0Q227.5 47.7 227.0 49.1Q226.5 50.5 226.0 51.9Q225.5 53.2 224.9 54.6Q224.3 56.0 223.3 57.3Q222.3 58.6 221.0 59.9Q219.6 61.2 217.8 62.7Q216.0 64.2 213.4 65.8Q210.8 67.3 207.8 67.1Q204.9 66.9 203.4 64.4Q201.9 61.8 201.9 58.8Q201.9 55.9 202.4 53.5Q202.9 51.2 203.5 49.5Q204.1 47.7 204.8 46.3Q205.5 44.9 206.2 43.7Q206.9 42.4 207.7 41.3Q208.4 40.1 209.4 39.0Q210.3 37.8 211.5 36.5Q212.7 35.3 214.3 34.3Q216.0 33.3 218.2 32.4Q220.3 31.6 223.0 31.2Q225.8 30.8 227.1 33.0Q228.5 35.2 228.5 37.8Q228.5 40.5 228.5 42.4Q228.4 44.4 228.0 46.0Z" fill="none" stroke="#00003a" stroke-width="0.95" stroke-opacity="0.72"/>
<path d="M231.1 46.7Q230.9 47.7 230.6 48.6Q230.4 49.6 230.2 50.5Q229.9 51.4 229.7 52.4Q229.5 53.3 229.2 54.2Q228.9 55.2 228.6 56.2Q228.4 57.2 228.0 58.3Q227.6 59.3 227.0 60.3Q226.4 61.3 225.6 62.1Q224.8 63.0 223.9 63.7Q223.0 64.5 221.9 65.3Q220.9 66.1 219.8 67.0Q218.7 67.8 217.3 68.8Q216.0 69.7 214.4 70.7Q212.8 71.8 210.9 72.8Q209.0 73.8 207.0 74.1Q204.9 74.5 203.1 73.8Q201.3 73.2 200.1 71.6Q198.8 70.1 198.2 68.1Q197.6 66.1 197.4 64.1Q197.2 62.1 197.3 60.3Q197.4 58.4 197.6 56.8Q197.9 55.2 198.3 53.8Q198.6 52.4 199.0 51.1Q199.4 49.9 199.8 48.8Q200.2 47.7 200.7 46.7Q201.1 45.7 201.6 44.9Q202.1 44.0 202.5 43.1Q203.0 42.3 203.5 41.5Q204.0 40.8 204.5 40.0Q205.0 39.3 205.6 38.6Q206.1 37.8 206.7 37.1Q207.3 36.4 208.0 35.7Q208.6 34.9 209.4 34.2Q210.1 33.4 210.9 32.6Q211.8 31.9 212.7 31.2Q213.7 30.5 214.9 30.0Q216.0 29.4 217.3 28.8Q218.6 28.3 220.0 27.8Q221.5 27.3 223.1 26.9Q224.8 26.5 226.6 26.4Q228.4 26.3 229.9 27.0Q231.3 27.7 231.6 29.8Q231.9 31.8 231.9 33.7Q231.9 35.5 231.9 37.0Q231.9 38.5 231.9 39.8Q231.9 41.1 231.8 42.3Q231.8 43.5 231.5 44.6Q231.3 45.7 231.1 46.7Z" fill="none" stroke="#00003a" stroke-width="0.95" stroke-opacity="0.72"/>
<path d="M234.0 46.5Q233.8 47.7 233.6 48.8Q233.4 50.0 233.2 51.1Q233.1 52.3 232.9 53.4Q232.7 54.6 232.5 55.8Q232.3 57.1 232.0 58.5Q231.8 59.8 231.5 61.4Q231.2 62.9 230.4 64.2Q229.7 65.5 228.5 66.5Q227.4 67.4 226.1 68.2Q224.9 69.1 223.5 69.9Q222.2 70.8 220.7 71.8Q219.3 72.7 217.6 73.8Q216.0 74.8 214.1 76.0Q212.1 77.1 209.8 78.4Q207.4 79.7 204.8 80.4Q202.2 81.1 200.0 80.1Q197.9 79.1 196.5 76.9Q195.2 74.8 194.5 72.4Q193.8 69.9 193.5 67.5Q193.3 65.2 193.3 63.0Q193.4 60.8 193.6 58.8Q193.9 56.9 194.3 55.1Q194.7 53.4 195.2 51.9Q195.6 50.4 196.2 49.0Q196.7 47.7 197.2 46.5Q197.8 45.3 198.4 44.2Q198.9 43.1 199.6 42.1Q200.2 41.1 200.8 40.2Q201.4 39.3 202.1 38.4Q202.7 37.5 203.4 36.7Q204.1 35.8 204.9 35.0Q205.6 34.2 206.4 33.3Q207.2 32.5 208.1 31.6Q209.0 30.8 210.0 30.0Q211.0 29.1 212.2 28.4Q213.4 27.6 214.7 27.0Q216.0 26.3 217.5 25.6Q219.0 25.0 220.7 24.4Q222.4 23.9 224.3 23.4Q226.3 22.9 228.4 22.7Q230.5 22.5 232.2 23.4Q233.9 24.3 234.2 26.7Q234.5 29.2 234.6 31.3Q234.6 33.5 234.6 35.2Q234.5 37.0 234.6 38.5Q234.6 40.0 234.5 41.4Q234.5 42.8 234.3 44.0Q234.1 45.3 234.0 46.5Z" fill="none" stroke="#00003a" stroke-width="0.95" stroke-opacity="0.72"/>
<path d="M236.5 46.3Q236.4 47.7 236.3 49.0Q236.2 50.4 236.1 51.7Q236.0 53.1 235.9 54.5Q235.8 55.9 235.7 57.5Q235.6 59.0 235.5 60.8Q235.4 62.6 235.2 64.7Q235.0 66.7 234.2 68.5Q233.3 70.2 231.7 71.2Q230.1 72.1 228.4 72.9Q226.8 73.8 225.1 74.7Q223.5 75.5 221.7 76.5Q219.9 77.5 218.0 78.6Q216.0 79.7 213.7 81.0Q211.4 82.3 208.7 83.8Q205.9 85.4 202.6 86.6Q199.4 87.9 197.0 86.3Q194.6 84.7 193.3 81.9Q191.9 79.1 191.1 76.3Q190.2 73.5 189.9 70.7Q189.6 68.0 189.6 65.4Q189.6 62.9 189.9 60.7Q190.1 58.4 190.6 56.4Q191.0 54.4 191.5 52.6Q192.0 50.9 192.7 49.3Q193.3 47.7 193.9 46.3Q194.6 44.9 195.3 43.6Q196.0 42.3 196.7 41.2Q197.5 40.0 198.2 39.0Q199.0 37.9 199.8 36.9Q200.6 35.9 201.4 34.9Q202.3 34.0 203.2 33.1Q204.1 32.1 205.0 31.2Q206.0 30.3 207.0 29.4Q208.1 28.5 209.2 27.7Q210.4 26.8 211.7 26.0Q213.0 25.2 214.5 24.5Q216.0 23.7 217.7 23.0Q219.4 22.3 221.2 21.6Q223.1 21.0 225.3 20.5Q227.5 19.9 229.9 19.6Q232.4 19.3 234.3 20.3Q236.2 21.4 236.5 24.1Q236.8 26.9 236.8 29.3Q236.8 31.7 236.8 33.7Q236.8 35.7 236.8 37.4Q236.8 39.1 236.8 40.6Q236.7 42.1 236.6 43.6Q236.6 45.0 236.5 46.3Z" fill="none" stroke="#00003a" stroke-width="0.95" stroke-opacity="0.72"/>
<path d="M231.5 94.9Q231.6 96.3 231.5 97.7Q231.4 99.2 231.0 100.6Q230.7 102.1 230.0 103.5Q229.4 105.0 227.9 105.6Q226.4 106.2 224.8 106.1Q223.3 106.0 222.0 105.8Q220.7 105.5 219.5 105.2Q218.4 104.9 217.3 104.5Q216.2 104.1 215.1 103.5Q214.1 102.9 213.0 102.1Q211.9 101.4 210.9 100.3Q209.8 99.2 209.3 97.8Q208.8 96.3 209.7 95.0Q210.7 93.6 211.9 92.8Q213.2 92.0 214.2 91.4Q215.2 90.8 216.1 90.4Q217.0 89.9 217.9 89.4Q218.7 89.0 219.7 88.6Q220.7 88.2 221.9 87.9Q223.0 87.6 224.6 87.2Q226.1 86.9 227.7 87.3Q229.4 87.6 230.0 89.1Q230.7 90.5 231.0 92.0Q231.4 93.4 231.5 94.9Z" fill="none" stroke="#00003a" stroke-width="0.95" stroke-opacity="0.72"/>
<path d="M234.7 94.4Q234.9 96.3 234.7 98.2Q234.6 100.0 234.4 102.1Q234.2 104.1 233.7 106.5Q233.3 108.9 231.0 109.6Q228.8 110.3 226.5 110.0Q224.3 109.7 222.5 109.2Q220.7 108.7 219.2 108.2Q217.6 107.7 216.2 107.1Q214.8 106.5 213.5 105.7Q212.1 104.9 210.7 103.9Q209.3 102.9 207.9 101.5Q206.4 100.1 205.4 98.2Q204.5 96.3 206.2 94.6Q207.9 92.9 209.5 91.8Q211.2 90.8 212.5 90.1Q213.8 89.4 214.9 88.8Q216.0 88.2 217.1 87.6Q218.2 87.0 219.4 86.4Q220.7 85.8 222.3 85.3Q223.8 84.7 226.0 83.9Q228.3 83.2 230.8 83.4Q233.3 83.7 233.8 86.1Q234.2 88.5 234.4 90.5Q234.6 92.6 234.7 94.4Z" fill="none" stroke="#00003a" stroke-width="0.95" stroke-opacity="0.72"/>
<path d="M236.8 95.2Q236.9 96.3 236.8 97.4Q236.8 98.4 236.8 99.5Q236.7 100.6 236.7 101.8Q236.7 102.9 236.7 104.2Q236.6 105.5 236.6 107.0Q236.5 108.4 236.3 110.1Q236.2 111.8 235.0 112.6Q233.9 113.5 232.2 113.3Q230.5 113.2 229.0 113.0Q227.5 112.7 226.2 112.4Q225.0 112.2 223.8 111.9Q222.7 111.5 221.7 111.2Q220.7 110.9 219.8 110.6Q218.9 110.2 218.0 109.9Q217.2 109.5 216.3 109.1Q215.5 108.7 214.8 108.4Q214.0 108.0 213.2 107.5Q212.4 107.1 211.7 106.6Q210.9 106.1 210.1 105.6Q209.3 105.0 208.5 104.4Q207.7 103.8 206.8 103.1Q206.0 102.4 205.1 101.6Q204.2 100.7 203.2 99.7Q202.3 98.7 201.8 97.5Q201.3 96.3 202.5 95.2Q203.6 94.1 204.9 93.2Q206.1 92.4 207.2 91.8Q208.2 91.1 209.1 90.6Q209.9 90.1 210.7 89.7Q211.5 89.2 212.2 88.8Q212.8 88.4 213.5 88.1Q214.1 87.7 214.7 87.4Q215.4 87.1 216.0 86.7Q216.6 86.4 217.2 86.1Q217.9 85.7 218.5 85.4Q219.2 85.1 220.0 84.7Q220.7 84.4 221.5 84.0Q222.4 83.7 223.3 83.2Q224.3 82.8 225.5 82.3Q226.7 81.8 228.2 81.2Q229.8 80.6 231.8 79.9Q233.8 79.3 235.0 80.0Q236.3 80.7 236.4 82.5Q236.5 84.2 236.6 85.6Q236.6 87.1 236.7 88.4Q236.7 89.7 236.7 90.8Q236.7 92.0 236.8 93.1Q236.8 94.2 236.8 95.2Z" fill="none" stroke="#00003a" stroke-width="0.95" stroke-opacity="0.72"/>
<path d="M273.4 45.4Q273.9 46.5 274.4 47.9Q274.9 49.3 275.3 51.1Q275.7 52.9 275.7 55.3Q275.7 57.6 274.7 59.9Q273.6 62.1 271.3 62.5Q269.0 62.9 266.8 61.7Q264.6 60.5 263.1 59.1Q261.6 57.8 260.5 56.6Q259.4 55.5 258.6 54.4Q257.8 53.3 257.3 52.2Q256.7 51.0 256.3 49.9Q255.9 48.8 255.5 47.7Q255.1 46.5 254.7 45.1Q254.3 43.7 254.0 42.0Q253.7 40.2 253.7 37.9Q253.7 35.6 255.0 33.8Q256.3 32.0 258.6 32.6Q261.0 33.2 262.8 34.0Q264.6 34.8 266.0 35.6Q267.3 36.4 268.3 37.4Q269.2 38.4 270.0 39.4Q270.7 40.4 271.3 41.4Q271.9 42.3 272.4 43.3Q272.9 44.3 273.4 45.4Z" fill="none" stroke="#00003a" stroke-width="0.95" stroke-opacity="0.72"/>
<path d="M277.2 44.9Q277.9 46.5 278.6 48.5Q279.3 50.5 279.9 53.1Q280.4 55.6 280.5 59.0Q280.5 62.4 279.1 65.7Q277.6 69.1 274.3 69.9Q271.1 70.6 267.8 68.9Q264.6 67.1 262.3 65.3Q260.0 63.6 258.3 62.0Q256.5 60.5 255.2 58.8Q253.9 57.2 253.2 55.3Q252.6 53.5 252.1 51.7Q251.6 50.0 251.1 48.2Q250.7 46.5 250.3 44.5Q249.9 42.6 249.5 40.1Q249.2 37.6 249.3 34.4Q249.3 31.2 251.3 29.0Q253.2 26.8 256.5 27.6Q259.7 28.4 262.2 29.4Q264.6 30.5 266.4 31.6Q268.3 32.8 269.6 34.1Q271.0 35.4 272.0 36.7Q273.1 38.0 274.0 39.3Q274.8 40.6 275.6 42.0Q276.4 43.3 277.2 44.9Z" fill="none" stroke="#00003a" stroke-width="0.95" stroke-opacity="0.72"/>
<path d="M281.1 45.4Q281.5 46.5 282.0 47.7Q282.5 48.9 283.0 50.2Q283.4 51.5 283.8 53.1Q284.2 54.6 284.5 56.4Q284.8 58.1 284.9 60.2Q285.0 62.2 284.9 64.4Q284.7 66.6 284.2 69.0Q283.6 71.3 282.5 73.5Q281.4 75.7 279.7 77.1Q277.9 78.5 275.5 78.5Q273.2 78.5 270.8 77.3Q268.5 76.1 266.5 74.9Q264.6 73.7 263.0 72.6Q261.3 71.5 259.9 70.5Q258.4 69.5 257.1 68.6Q255.8 67.7 254.6 66.8Q253.4 66.0 252.2 65.1Q251.0 64.2 250.2 63.0Q249.3 61.8 248.9 60.3Q248.5 58.8 248.3 57.4Q248.1 56.1 247.8 54.8Q247.6 53.5 247.4 52.3Q247.2 51.2 247.0 50.0Q246.8 48.8 246.6 47.7Q246.5 46.5 246.3 45.3Q246.1 44.1 246.0 42.8Q245.8 41.5 245.7 40.0Q245.5 38.6 245.4 37.0Q245.3 35.4 245.2 33.5Q245.1 31.6 245.3 29.4Q245.4 27.3 246.4 25.6Q247.3 24.0 249.1 23.3Q250.8 22.6 253.0 23.1Q255.1 23.5 256.9 24.1Q258.7 24.6 260.3 25.3Q261.9 25.9 263.2 26.6Q264.6 27.2 265.8 27.9Q267.0 28.5 268.0 29.2Q269.0 29.9 269.9 30.7Q270.9 31.4 271.6 32.2Q272.4 33.0 273.1 33.7Q273.8 34.5 274.5 35.2Q275.1 36.0 275.7 36.8Q276.3 37.5 276.9 38.3Q277.4 39.1 278.0 39.9Q278.5 40.7 279.1 41.6Q279.6 42.5 280.1 43.4Q280.6 44.4 281.1 45.4Z" fill="none" stroke="#00003a" stroke-width="0.95" stroke-opacity="0.72"/>
<path d="M284.2 45.2Q284.8 46.5 285.4 47.9Q286.1 49.3 286.6 50.9Q287.1 52.5 287.6 54.4Q288.1 56.2 288.4 58.3Q288.7 60.4 288.8 62.8Q288.9 65.2 288.8 67.8Q288.6 70.5 288.0 73.3Q287.3 76.1 286.2 79.0Q285.0 81.9 283.1 84.2Q281.2 86.5 278.2 86.5Q275.3 86.4 272.4 84.7Q269.4 83.0 267.0 81.6Q264.6 80.2 262.5 79.0Q260.5 77.8 258.6 76.7Q256.8 75.7 255.0 74.7Q253.3 73.8 251.6 72.9Q249.9 71.9 248.2 71.0Q246.5 70.1 245.3 68.6Q244.1 67.0 243.8 64.8Q243.5 62.7 243.4 60.7Q243.3 58.8 243.2 57.1Q243.1 55.4 243.0 53.9Q242.9 52.3 242.7 50.9Q242.6 49.4 242.5 47.9Q242.4 46.5 242.3 45.0Q242.3 43.6 242.2 42.0Q242.1 40.5 242.1 38.8Q242.0 37.1 241.9 35.3Q241.9 33.4 241.8 31.2Q241.8 29.0 241.8 26.4Q241.9 23.8 243.1 21.9Q244.3 20.0 246.6 19.7Q249.0 19.4 251.4 20.0Q253.8 20.5 255.9 21.1Q258.0 21.7 259.7 22.4Q261.5 23.2 263.1 23.9Q264.6 24.6 265.9 25.4Q267.3 26.1 268.5 26.9Q269.6 27.7 270.7 28.5Q271.7 29.3 272.7 30.1Q273.6 30.9 274.4 31.8Q275.3 32.6 276.1 33.4Q276.9 34.2 277.6 35.1Q278.3 36.0 279.0 36.9Q279.7 37.8 280.4 38.7Q281.1 39.7 281.7 40.7Q282.4 41.7 283.0 42.9Q283.6 44.0 284.2 45.2Z" fill="none" stroke="#00003a" stroke-width="0.95" stroke-opacity="0.72"/>
<path d="M268.1 95.0Q269.1 96.3 268.6 97.8Q268.2 99.2 267.2 100.3Q266.1 101.4 265.0 102.2Q263.9 102.9 262.9 103.5Q261.8 104.1 260.7 104.5Q259.6 104.9 258.5 105.2Q257.3 105.6 256.0 105.8Q254.7 106.0 253.2 106.1Q251.6 106.1 250.1 105.5Q248.7 104.9 248.0 103.5Q247.3 102.1 247.0 100.6Q246.6 99.2 246.5 97.7Q246.3 96.3 246.5 94.9Q246.6 93.4 247.0 92.0Q247.3 90.5 248.0 89.1Q248.7 87.7 250.3 87.4Q252.0 87.0 253.5 87.4Q255.0 87.7 256.1 88.0Q257.3 88.3 258.3 88.7Q259.2 89.1 260.1 89.6Q260.9 90.0 261.8 90.5Q262.7 90.9 263.6 91.5Q264.6 92.1 265.9 92.9Q267.1 93.7 268.1 95.0Z" fill="none" stroke="#00003a" stroke-width="0.95" stroke-opacity="0.72"/>
<path d="M271.7 94.6Q273.4 96.3 272.6 98.2Q271.8 100.2 270.3 101.6Q268.8 102.9 267.4 103.9Q266.0 105.0 264.6 105.7Q263.2 106.5 261.8 107.1Q260.4 107.8 258.8 108.3Q257.3 108.8 255.5 109.3Q253.7 109.7 251.5 110.0Q249.2 110.3 247.0 109.6Q244.7 108.9 244.2 106.5Q243.7 104.1 243.5 102.1Q243.2 100.1 243.1 98.2Q243.1 96.3 243.1 94.4Q243.2 92.5 243.5 90.5Q243.7 88.5 244.2 86.1Q244.7 83.7 247.3 83.5Q249.8 83.4 252.0 84.1Q254.2 84.8 255.8 85.4Q257.3 86.0 258.5 86.6Q259.8 87.1 260.8 87.7Q261.9 88.3 263.0 88.9Q264.1 89.5 265.4 90.2Q266.6 90.9 268.3 91.9Q269.9 92.9 271.7 94.6Z" fill="none" stroke="#00003a" stroke-width="0.95" stroke-opacity="0.72"/>
<path d="M275.3 95.2Q276.5 96.3 276.3 97.5Q276.0 98.8 275.0 99.8Q274.1 100.8 273.2 101.6Q272.3 102.5 271.4 103.2Q270.5 103.9 269.7 104.6Q268.9 105.2 268.1 105.7Q267.2 106.2 266.5 106.7Q265.7 107.2 264.9 107.7Q264.1 108.1 263.3 108.5Q262.5 108.9 261.7 109.3Q260.9 109.6 260.0 110.0Q259.2 110.4 258.2 110.7Q257.3 111.0 256.3 111.4Q255.3 111.7 254.2 112.0Q253.0 112.2 251.8 112.5Q250.5 112.8 249.0 113.0Q247.5 113.3 245.8 113.4Q244.1 113.5 242.9 112.7Q241.7 111.9 241.6 110.2Q241.4 108.5 241.3 107.0Q241.3 105.6 241.2 104.3Q241.1 103.0 241.1 101.8Q241.0 100.7 241.0 99.6Q241.0 98.4 241.0 97.4Q241.0 96.3 241.0 95.2Q241.0 94.2 241.0 93.0Q241.0 91.9 241.1 90.8Q241.1 89.6 241.2 88.3Q241.3 87.0 241.3 85.6Q241.4 84.1 241.5 82.4Q241.6 80.6 243.0 80.0Q244.3 79.4 246.3 80.1Q248.4 80.8 249.9 81.4Q251.4 82.0 252.6 82.5Q253.7 83.0 254.7 83.4Q255.7 83.9 256.5 84.2Q257.3 84.6 258.0 84.9Q258.8 85.3 259.4 85.6Q260.1 85.9 260.7 86.2Q261.3 86.6 261.9 86.9Q262.5 87.3 263.2 87.6Q263.8 87.9 264.4 88.2Q265.0 88.6 265.7 89.0Q266.3 89.4 267.1 89.8Q267.8 90.2 268.7 90.7Q269.6 91.2 270.6 91.8Q271.6 92.5 272.8 93.3Q274.0 94.1 275.3 95.2Z" fill="none" stroke="#00003a" stroke-width="0.95" stroke-opacity="0.72"/>
<ellipse cx="220.7" cy="96.3" rx="1.6" ry="1.1" fill="#000018"/>
<ellipse cx="264.8" cy="46.8" rx="6.4" ry="9.4" transform="rotate(-24 264.8 46.8)" fill="none" stroke="#00003a" stroke-width="1.10" stroke-opacity="0.70"/>
<ellipse cx="220.7" cy="96.3" rx="7.4" ry="5.2" transform="rotate(6 220.7 96.3)" fill="none" stroke="#00003a" stroke-width="1.00" stroke-opacity="0.80"/>
<ellipse cx="257.3" cy="96.3" rx="6.8" ry="5.6" transform="rotate(-6 257.3 96.3)" fill="none" stroke="#00003a" stroke-width="1.00" stroke-opacity="0.80"/>
<path d="M238.9 75 L238.9 118" stroke="#00003a" stroke-width="0.7" stroke-opacity="0.6" fill="none"/>
<path d="M236.2 80 Q235.6 100 230 116 M241.6 80 Q242.2 100 248 116" stroke="#00003a" stroke-width="0.6" stroke-opacity="0.55" fill="none"/>
</g>
<linearGradient id="vl" x1="238.8" y1="0" x2="194" y2="0" gradientUnits="userSpaceOnUse"><stop offset="0" stop-color="#1a8cff" stop-opacity="0"/><stop offset="0.3" stop-color="#1a8cff" stop-opacity="0"/><stop offset="0.55" stop-color="#1a90ff" stop-opacity="0.75"/><stop offset="0.8" stop-color="#20d0f0"/><stop offset="0.92" stop-color="#30e070"/><stop offset="1" stop-color="#b0f020"/></linearGradient>
<linearGradient id="vr" x1="238.8" y1="0" x2="284.5" y2="0" gradientUnits="userSpaceOnUse"><stop offset="0" stop-color="#1a8cff" stop-opacity="0"/><stop offset="0.3" stop-color="#1a8cff" stop-opacity="0"/><stop offset="0.55" stop-color="#1a90ff" stop-opacity="0.75"/><stop offset="0.8" stop-color="#20d0f0"/><stop offset="0.92" stop-color="#30e070"/><stop offset="1" stop-color="#b0f020"/></linearGradient>
<g filter="url(#bl2)" fill="none" stroke-width="1.6">
<path d="M238.8 74.5 Q226 78 212 86.5 L194 98" stroke="url(#vl)"/>
<path d="M238.8 74.5 Q252 78 266 86.5 L284.5 98" stroke="url(#vr)"/>
<path d="M209 88.4 L194 98" stroke="url(#vl)" stroke-width="3.2" stroke-opacity="0.8"/>
<path d="M269 88.4 L284.5 98" stroke="url(#vr)" stroke-width="3.2" stroke-opacity="0.8"/>
</g>
<g filter="url(#bl)">
<g fill="none" stroke-width="7.40" stroke-linecap="butt" opacity="0.30"><path d="M201.34 29.39L199.60 31.07" stroke="rgb(4,4,251)"/><path d="M200.00 30.68L198.32 32.41" stroke="rgb(4,4,251)"/><path d="M198.70 32.01L197.09 33.79" stroke="rgb(4,4,251)"/><path d="M197.45 33.38L195.90 35.22" stroke="rgb(4,4,251)"/><path d="M196.25 34.79L194.78 36.68" stroke="rgb(4,4,251)"/><path d="M195.11 36.24L193.70 38.18" stroke="rgb(4,4,251)"/><path d="M194.02 37.72L192.68 39.71" stroke="rgb(4,4,251)"/><path d="M192.98 39.24L191.72 41.27" stroke="rgb(4,4,251)"/><path d="M192.00 40.80L190.81 42.87" stroke="rgb(4,4,251)"/><path d="M191.08 42.39L189.97 44.50" stroke="rgb(4,4,251)"/><path d="M190.22 44.00L189.18 46.15" stroke="rgb(4,4,251)"/><path d="M189.41 45.65L188.46 47.83" stroke="rgb(4,4,251)"/><path d="M188.67 47.32L187.79 49.53" stroke="rgb(4,4,251)"/><path d="M187.99 49.01L187.19 51.25" stroke="rgb(3,35,252)"/><path d="M187.37 50.73L186.66 52.99" stroke="rgb(1,83,254)"/><path d="M186.81 52.47L186.18 54.75" stroke="rgb(0,102,255)"/><path d="M186.32 54.22L185.78 56.52" stroke="rgb(0,106,255)"/><path d="M185.89 55.99L185.43 58.31" stroke="rgb(0,110,255)"/><path d="M185.53 57.77L185.15 60.10" stroke="rgb(0,113,255)"/><path d="M185.23 59.56L184.94 61.91" stroke="rgb(0,117,255)"/><path d="M185.00 61.36L184.80 63.72" stroke="rgb(0,125,254)"/><path d="M184.83 63.17L184.72 65.53" stroke="rgb(0,159,250)"/><path d="M184.73 64.99L184.70 67.34" stroke="rgb(0,193,246)"/><path d="M184.70 66.80L184.76 69.16" stroke="rgb(0,205,245)"/><path d="M184.73 68.61L184.88 70.97" stroke="rgb(0,205,245)"/><path d="M184.83 70.43L185.06 72.78" stroke="rgb(0,205,245)"/><path d="M185.00 72.24L185.31 74.58" stroke="rgb(0,205,245)"/><path d="M185.23 74.04L185.63 76.37" stroke="rgb(0,208,224)"/><path d="M185.53 75.83L186.01 78.14" stroke="rgb(0,213,193)"/><path d="M185.89 77.61L186.46 79.91" stroke="rgb(0,218,161)"/><path d="M186.32 79.38L186.97 81.66" stroke="rgb(5,221,135)"/><path d="M186.81 81.13L187.55 83.39" stroke="rgb(12,222,113)"/><path d="M187.37 82.87L188.18 85.10" stroke="rgb(20,223,90)"/><path d="M187.99 84.59L188.89 86.78" stroke="rgb(27,225,68)"/><path d="M188.67 86.28L189.65 88.45" stroke="rgb(30,225,60)"/><path d="M189.41 87.95L190.47 90.08" stroke="rgb(30,225,60)"/><path d="M190.22 89.60L191.35 91.69" stroke="rgb(30,225,60)"/><path d="M191.08 91.21L192.29 93.27" stroke="rgb(30,225,60)"/><path d="M192.00 92.80L193.29 94.82" stroke="rgb(30,225,60)"/><path d="M192.98 94.36L194.34 96.33" stroke="rgb(79,230,41)"/><path d="M194.02 95.88L195.45 97.80" stroke="rgb(154,237,11)"/><path d="M195.11 97.36L196.61 99.24" stroke="rgb(204,234,0)"/><path d="M196.25 98.81L197.82 100.64" stroke="rgb(242,224,0)"/><path d="M197.45 100.22L199.08 102.00" stroke="rgb(255,194,0)"/><path d="M198.70 101.59L200.39 103.31" stroke="rgb(255,155,0)"/><path d="M200.00 102.92L201.75 104.58" stroke="rgb(255,123,0)"/><path d="M201.34 104.21L203.16 105.81" stroke="rgb(255,91,0)"/><path d="M202.73 105.44L204.61 106.98" stroke="rgb(255,65,0)"/><path d="M204.17 106.63L206.10 108.11" stroke="rgb(255,42,0)"/><path d="M205.65 107.78L207.63 109.19" stroke="rgb(255,19,0)"/><path d="M207.17 108.87L209.20 110.21" stroke="rgb(255,0,0)"/><path d="M208.72 109.91L210.80 111.18" stroke="rgb(255,0,0)"/><path d="M210.32 110.90L212.45 112.10" stroke="rgb(255,0,0)"/><path d="M211.95 111.83L214.12 112.97" stroke="rgb(255,0,0)"/><path d="M213.61 112.71L215.82 113.77" stroke="rgb(255,0,0)"/><path d="M215.31 113.54L217.56 114.52" stroke="rgb(255,0,0)"/><path d="M217.03 114.30L219.31 115.21" stroke="rgb(255,0,0)"/><path d="M218.78 115.01L221.10 115.85" stroke="rgb(255,0,0)"/><path d="M220.56 115.66L222.90 116.42" stroke="rgb(255,0,0)"/><path d="M222.36 116.25L224.73 116.93" stroke="rgb(255,0,0)"/><path d="M224.18 116.79L226.57 117.38" stroke="rgb(255,0,0)"/><path d="M226.02 117.26L228.43 117.77" stroke="rgb(255,0,0)"/><path d="M227.87 117.66L230.30 118.10" stroke="rgb(255,0,0)"/><path d="M229.74 118.01L232.18 118.37" stroke="rgb(255,0,0)"/><path d="M231.62 118.29L234.07 118.57" stroke="rgb(255,0,0)"/><path d="M233.50 118.52L235.97 118.71" stroke="rgb(255,0,0)"/><path d="M235.40 118.67L237.87 118.78" stroke="rgb(255,0,0)"/><path d="M237.30 118.77L239.77 118.80" stroke="rgb(255,0,0)"/><path d="M239.20 118.80L241.67 118.75" stroke="rgb(255,0,0)"/><path d="M241.10 118.77L243.57 118.63" stroke="rgb(255,0,0)"/><path d="M243.00 118.67L245.46 118.46" stroke="rgb(255,0,0)"/><path d="M244.90 118.52L247.35 118.22" stroke="rgb(255,0,0)"/><path d="M246.78 118.29L249.23 117.91" stroke="rgb(255,0,0)"/><path d="M248.66 118.01L251.09 117.55" stroke="rgb(255,0,0)"/><path d="M250.53 117.66L252.94 117.12" stroke="rgb(255,0,0)"/><path d="M252.38 117.26L254.77 116.63" stroke="rgb(255,0,0)"/><path d="M254.22 116.79L256.58 116.08" stroke="rgb(255,0,0)"/><path d="M256.04 116.25L258.38 115.48" stroke="rgb(255,0,0)"/><path d="M257.84 115.66L260.14 114.81" stroke="rgb(255,0,0)"/><path d="M259.62 115.01L261.89 114.08" stroke="rgb(255,0,0)"/><path d="M261.37 114.30L263.60 113.30" stroke="rgb(255,0,0)"/><path d="M263.09 113.54L265.29 112.46" stroke="rgb(255,0,0)"/><path d="M264.79 112.71L266.94 111.56" stroke="rgb(255,0,0)"/><path d="M266.45 111.83L268.56 110.61" stroke="rgb(255,0,0)"/><path d="M268.08 110.90L270.15 109.60" stroke="rgb(255,0,0)"/><path d="M269.68 109.91L271.69 108.55" stroke="rgb(255,0,0)"/><path d="M271.23 108.87L273.20 107.44" stroke="rgb(255,0,0)"/><path d="M272.75 107.78L274.67 106.28" stroke="rgb(255,0,0)"/><path d="M274.23 106.63L276.09 105.08" stroke="rgb(255,6,0)"/><path d="M275.67 105.44L277.47 103.83" stroke="rgb(255,46,0)"/><path d="M277.06 104.21L278.80 102.53" stroke="rgb(255,87,0)"/><path d="M278.40 102.92L280.08 101.19" stroke="rgb(255,132,0)"/><path d="M279.70 101.59L281.31 99.81" stroke="rgb(255,175,0)"/><path d="M280.95 100.22L282.50 98.38" stroke="rgb(255,212,0)"/><path d="M282.15 98.81L283.62 96.92" stroke="rgb(231,230,0)"/><path d="M283.29 97.36L284.70 95.42" stroke="rgb(193,237,0)"/><path d="M284.38 95.88L285.72 93.89" stroke="rgb(141,236,16)"/><path d="M285.42 94.36L286.68 92.33" stroke="rgb(81,230,40)"/><path d="M286.40 92.80L287.59 90.73" stroke="rgb(30,225,60)"/><path d="M287.32 91.21L288.43 89.10" stroke="rgb(30,225,60)"/><path d="M288.18 89.60L289.22 87.45" stroke="rgb(30,225,60)"/><path d="M288.99 87.95L289.94 85.77" stroke="rgb(30,225,60)"/><path d="M289.73 86.28L290.61 84.07" stroke="rgb(30,225,60)"/><path d="M290.41 84.59L291.21 82.35" stroke="rgb(30,225,60)"/><path d="M291.03 82.87L291.74 80.61" stroke="rgb(30,225,60)"/><path d="M291.59 81.13L292.22 78.85" stroke="rgb(30,225,60)"/><path d="M292.08 79.38L292.62 77.08" stroke="rgb(20,223,89)"/><path d="M292.51 77.61L292.97 75.29" stroke="rgb(5,221,134)"/><path d="M292.87 75.83L293.25 73.50" stroke="rgb(0,215,181)"/><path d="M293.17 74.04L293.46 71.69" stroke="rgb(0,208,228)"/><path d="M293.40 72.24L293.60 69.88" stroke="rgb(0,205,245)"/><path d="M293.57 70.43L293.68 68.07" stroke="rgb(0,205,245)"/><path d="M293.67 68.61L293.70 66.26" stroke="rgb(0,205,245)"/><path d="M293.70 66.80L293.64 64.44" stroke="rgb(0,205,245)"/><path d="M293.67 64.99L293.52 62.63" stroke="rgb(0,177,248)"/><path d="M293.57 63.17L293.34 60.82" stroke="rgb(0,135,253)"/><path d="M293.40 61.36L293.09 59.02" stroke="rgb(0,118,255)"/><path d="M293.17 59.56L292.77 57.23" stroke="rgb(0,115,255)"/><path d="M292.87 57.77L292.39 55.46" stroke="rgb(0,112,255)"/><path d="M292.51 55.99L291.94 53.69" stroke="rgb(0,109,255)"/><path d="M292.08 54.22L291.43 51.94" stroke="rgb(0,106,255)"/><path d="M291.59 52.47L290.85 50.21" stroke="rgb(0,103,255)"/><path d="M291.03 50.73L290.22 48.50" stroke="rgb(0,93,255)"/><path d="M290.41 49.01L289.51 46.82" stroke="rgb(2,45,253)"/><path d="M289.73 47.32L288.75 45.15" stroke="rgb(4,4,251)"/><path d="M288.99 45.65L287.93 43.52" stroke="rgb(4,4,251)"/><path d="M288.18 44.00L287.05 41.91" stroke="rgb(4,4,251)"/><path d="M287.32 42.39L286.11 40.33" stroke="rgb(4,4,251)"/><path d="M286.40 40.80L285.11 38.78" stroke="rgb(4,4,251)"/><path d="M285.42 39.24L284.06 37.27" stroke="rgb(4,4,251)"/><path d="M284.38 37.72L282.95 35.80" stroke="rgb(4,4,251)"/><path d="M283.29 36.24L281.79 34.36" stroke="rgb(4,4,251)"/><path d="M282.15 34.79L280.58 32.96" stroke="rgb(4,4,251)"/><path d="M280.95 33.38L279.32 31.60" stroke="rgb(4,4,251)"/><path d="M279.70 32.01L278.01 30.29" stroke="rgb(4,4,251)"/></g>
<g fill="none" stroke-width="5.80" stroke-linecap="butt" opacity="1.00"><path d="M201.34 29.39L199.60 31.07" stroke="rgb(4,4,251)" stroke-width="7.8"/><path d="M200.00 30.68L198.32 32.41" stroke="rgb(4,4,251)" stroke-width="7.8"/><path d="M198.70 32.01L197.09 33.79" stroke="rgb(4,4,251)" stroke-width="7.8"/><path d="M197.45 33.38L195.90 35.22" stroke="rgb(4,4,251)" stroke-width="7.8"/><path d="M196.25 34.79L194.78 36.68" stroke="rgb(4,4,251)" stroke-width="7.8"/><path d="M195.11 36.24L193.70 38.18" stroke="rgb(4,4,251)" stroke-width="7.8"/><path d="M194.02 37.72L192.68 39.71" stroke="rgb(4,4,251)" stroke-width="7.8"/><path d="M192.98 39.24L191.72 41.27" stroke="rgb(4,4,251)" stroke-width="7.8"/><path d="M192.00 40.80L190.81 42.87" stroke="rgb(4,4,251)" stroke-width="7.8"/><path d="M191.08 42.39L189.97 44.50" stroke="rgb(4,4,251)" stroke-width="7.8"/><path d="M190.22 44.00L189.18 46.15" stroke="rgb(4,4,251)" stroke-width="7.8"/><path d="M189.41 45.65L188.46 47.83" stroke="rgb(4,4,251)" stroke-width="7.8"/><path d="M188.67 47.32L187.79 49.53" stroke="rgb(4,4,251)" stroke-width="7.8"/><path d="M187.99 49.01L187.19 51.25" stroke="rgb(3,35,252)" stroke-width="7.8"/><path d="M187.37 50.73L186.66 52.99" stroke="rgb(1,83,254)" stroke-width="7.8"/><path d="M186.81 52.47L186.18 54.75" stroke="rgb(0,102,255)" stroke-width="7.8"/><path d="M186.32 54.22L185.78 56.52" stroke="rgb(0,106,255)" stroke-width="7.8"/><path d="M185.89 55.99L185.43 58.31" stroke="rgb(0,110,255)" stroke-width="7.8"/><path d="M185.53 57.77L185.15 60.10" stroke="rgb(0,113,255)" stroke-width="7.8"/><path d="M185.23 59.56L184.94 61.91" stroke="rgb(0,117,255)" stroke-width="7.8"/><path d="M185.00 61.36L184.80 63.72" stroke="rgb(0,125,254)" stroke-width="7.8"/><path d="M184.83 63.17L184.72 65.53" stroke="rgb(0,159,250)" stroke-width="7.8"/><path d="M184.73 64.99L184.70 67.34" stroke="rgb(0,193,246)" stroke-width="7.8"/><path d="M184.70 66.80L184.76 69.16" stroke="rgb(0,205,245)" stroke-width="7.8"/><path d="M184.73 68.61L184.88 70.97" stroke="rgb(0,205,245)" stroke-width="7.8"/><path d="M184.83 70.43L185.06 72.78" stroke="rgb(0,205,245)" stroke-width="7.8"/><path d="M185.00 72.24L185.31 74.58" stroke="rgb(0,205,245)" stroke-width="7.8"/><path d="M185.23 74.04L185.63 76.37" stroke="rgb(0,208,224)" stroke-width="7.8"/><path d="M185.53 75.83L186.01 78.14" stroke="rgb(0,213,193)" stroke-width="7.8"/><path d="M185.89 77.61L186.46 79.91" stroke="rgb(0,218,161)" stroke-width="7.8"/><path d="M186.32 79.38L186.97 81.66" stroke="rgb(5,221,135)" stroke-width="7.8"/><path d="M186.81 81.13L187.55 83.39" stroke="rgb(12,222,113)" stroke-width="7.8"/><path d="M187.37 82.87L188.18 85.10" stroke="rgb(20,223,90)" stroke-width="7.8"/><path d="M187.99 84.59L188.89 86.78" stroke="rgb(27,225,68)" stroke-width="7.8"/><path d="M188.67 86.28L189.65 88.45" stroke="rgb(30,225,60)" stroke-width="7.8"/><path d="M189.41 87.95L190.47 90.08" stroke="rgb(30,225,60)" stroke-width="7.8"/><path d="M190.22 89.60L191.35 91.69" stroke="rgb(30,225,60)" stroke-width="7.8"/><path d="M191.08 91.21L192.29 93.27" stroke="rgb(30,225,60)" stroke-width="7.8"/><path d="M192.00 92.80L193.29 94.82" stroke="rgb(30,225,60)" stroke-width="7.8"/><path d="M192.98 94.36L194.34 96.33" stroke="rgb(79,230,41)" stroke-width="7.8"/><path d="M194.02 95.88L195.45 97.80" stroke="rgb(154,237,11)" stroke-width="7.8"/><path d="M195.11 97.36L196.61 99.24" stroke="rgb(204,234,0)" stroke-width="7.8"/><path d="M196.25 98.81L197.82 100.64" stroke="rgb(242,224,0)" stroke-width="7.8"/><path d="M197.45 100.22L199.08 102.00" stroke="rgb(255,194,0)" stroke-width="7.8"/><path d="M198.70 101.59L200.39 103.31" stroke="rgb(255,155,0)" stroke-width="7.8"/><path d="M200.00 102.92L201.75 104.58" stroke="rgb(255,123,0)" stroke-width="7.5"/><path d="M201.34 104.21L203.16 105.81" stroke="rgb(255,91,0)" stroke-width="7.0"/><path d="M202.73 105.44L204.61 106.98" stroke="rgb(255,65,0)" stroke-width="6.5"/><path d="M204.17 106.63L206.10 108.11" stroke="rgb(255,42,0)" stroke-width="6.0"/><path d="M205.65 107.78L207.63 109.19" stroke="rgb(255,19,0)"/><path d="M207.17 108.87L209.20 110.21" stroke="rgb(255,0,0)"/><path d="M208.72 109.91L210.80 111.18" stroke="rgb(255,0,0)"/><path d="M210.32 110.90L212.45 112.10" stroke="rgb(255,0,0)"/><path d="M211.95 111.83L214.12 112.97" stroke="rgb(255,0,0)"/><path d="M213.61 112.71L215.82 113.77" stroke="rgb(255,0,0)"/><path d="M215.31 113.54L217.56 114.52" stroke="rgb(255,0,0)"/><path d="M217.03 114.30L219.31 115.21" stroke="rgb(255,0,0)"/><path d="M218.78 115.01L221.10 115.85" stroke="rgb(255,0,0)"/><path d="M220.56 115.66L222.90 116.42" stroke="rgb(255,0,0)"/><path d="M222.36 116.25L224.73 116.93" stroke="rgb(255,0,0)"/><path d="M224.18 116.79L226.57 117.38" stroke="rgb(255,0,0)"/><path d="M226.02 117.26L228.43 117.77" stroke="rgb(255,0,0)"/><path d="M227.87 117.66L230.30 118.10" stroke="rgb(255,0,0)"/><path d="M229.74 118.01L232.18 118.37" stroke="rgb(255,0,0)"/><path d="M231.62 118.29L234.07 118.57" stroke="rgb(255,0,0)"/><path d="M233.50 118.52L235.97 118.71" stroke="rgb(255,0,0)"/><path d="M235.40 118.67L237.87 118.78" stroke="rgb(255,0,0)"/><path d="M237.30 118.77L239.77 118.80" stroke="rgb(255,0,0)"/><path d="M239.20 118.80L241.67 118.75" stroke="rgb(255,0,0)"/><path d="M241.10 118.77L243.57 118.63" stroke="rgb(255,0,0)"/><path d="M243.00 118.67L245.46 118.46" stroke="rgb(255,0,0)"/><path d="M244.90 118.52L247.35 118.22" stroke="rgb(255,0,0)"/><path d="M246.78 118.29L249.23 117.91" stroke="rgb(255,0,0)"/><path d="M248.66 118.01L251.09 117.55" stroke="rgb(255,0,0)"/><path d="M250.53 117.66L252.94 117.12" stroke="rgb(255,0,0)"/><path d="M252.38 117.26L254.77 116.63" stroke="rgb(255,0,0)"/><path d="M254.22 116.79L256.58 116.08" stroke="rgb(255,0,0)"/><path d="M256.04 116.25L258.38 115.48" stroke="rgb(255,0,0)"/><path d="M257.84 115.66L260.14 114.81" stroke="rgb(255,0,0)"/><path d="M259.62 115.01L261.89 114.08" stroke="rgb(255,0,0)"/><path d="M261.37 114.30L263.60 113.30" stroke="rgb(255,0,0)"/><path d="M263.09 113.54L265.29 112.46" stroke="rgb(255,0,0)"/><path d="M264.79 112.71L266.94 111.56" stroke="rgb(255,0,0)"/><path d="M266.45 111.83L268.56 110.61" stroke="rgb(255,0,0)"/><path d="M268.08 110.90L270.15 109.60" stroke="rgb(255,0,0)"/><path d="M269.68 109.91L271.69 108.55" stroke="rgb(255,0,0)"/><path d="M271.23 108.87L273.20 107.44" stroke="rgb(255,0,0)"/><path d="M272.75 107.78L274.67 106.28" stroke="rgb(255,0,0)" stroke-width="6.1"/><path d="M274.23 106.63L276.09 105.08" stroke="rgb(255,6,0)" stroke-width="6.6"/><path d="M275.67 105.44L277.47 103.83" stroke="rgb(255,46,0)" stroke-width="7.1"/><path d="M277.06 104.21L278.80 102.53" stroke="rgb(255,87,0)" stroke-width="7.6"/><path d="M278.40 102.92L280.08 101.19" stroke="rgb(255,132,0)" stroke-width="7.8"/><path d="M279.70 101.59L281.31 99.81" stroke="rgb(255,175,0)" stroke-width="7.8"/><path d="M280.95 100.22L282.50 98.38" stroke="rgb(255,212,0)" stroke-width="7.8"/><path d="M282.15 98.81L283.62 96.92" stroke="rgb(231,230,0)" stroke-width="7.8"/><path d="M283.29 97.36L284.70 95.42" stroke="rgb(193,237,0)" stroke-width="7.8"/><path d="M284.38 95.88L285.72 93.89" stroke="rgb(141,236,16)" stroke-width="7.8"/><path d="M285.42 94.36L286.68 92.33" stroke="rgb(81,230,40)" stroke-width="7.8"/><path d="M286.40 92.80L287.59 90.73" stroke="rgb(30,225,60)" stroke-width="7.8"/><path d="M287.32 91.21L288.43 89.10" stroke="rgb(30,225,60)" stroke-width="7.8"/><path d="M288.18 89.60L289.22 87.45" stroke="rgb(30,225,60)" stroke-width="7.8"/><path d="M288.99 87.95L289.94 85.77" stroke="rgb(30,225,60)" stroke-width="7.8"/><path d="M289.73 86.28L290.61 84.07" stroke="rgb(30,225,60)" stroke-width="7.8"/><path d="M290.41 84.59L291.21 82.35" stroke="rgb(30,225,60)" stroke-width="7.8"/><path d="M291.03 82.87L291.74 80.61" stroke="rgb(30,225,60)" stroke-width="7.8"/><path d="M291.59 81.13L292.22 78.85" stroke="rgb(30,225,60)" stroke-width="7.8"/><path d="M292.08 79.38L292.62 77.08" stroke="rgb(20,223,89)" stroke-width="7.8"/><path d="M292.51 77.61L292.97 75.29" stroke="rgb(5,221,134)" stroke-width="7.8"/><path d="M292.87 75.83L293.25 73.50" stroke="rgb(0,215,181)" stroke-width="7.8"/><path d="M293.17 74.04L293.46 71.69" stroke="rgb(0,208,228)" stroke-width="7.8"/><path d="M293.40 72.24L293.60 69.88" stroke="rgb(0,205,245)" stroke-width="7.8"/><path d="M293.57 70.43L293.68 68.07" stroke="rgb(0,205,245)" stroke-width="7.8"/><path d="M293.67 68.61L293.70 66.26" stroke="rgb(0,205,245)" stroke-width="7.8"/><path d="M293.70 66.80L293.64 64.44" stroke="rgb(0,205,245)" stroke-width="7.8"/><path d="M293.67 64.99L293.52 62.63" stroke="rgb(0,177,248)" stroke-width="7.8"/><path d="M293.57 63.17L293.34 60.82" stroke="rgb(0,135,253)" stroke-width="7.8"/><path d="M293.40 61.36L293.09 59.02" stroke="rgb(0,118,255)" stroke-width="7.8"/><path d="M293.17 59.56L292.77 57.23" stroke="rgb(0,115,255)" stroke-width="7.8"/><path d="M292.87 57.77L292.39 55.46" stroke="rgb(0,112,255)" stroke-width="7.8"/><path d="M292.51 55.99L291.94 53.69" stroke="rgb(0,109,255)" stroke-width="7.8"/><path d="M292.08 54.22L291.43 51.94" stroke="rgb(0,106,255)" stroke-width="7.8"/><path d="M291.59 52.47L290.85 50.21" stroke="rgb(0,103,255)" stroke-width="7.8"/><path d="M291.03 50.73L290.22 48.50" stroke="rgb(0,93,255)" stroke-width="7.8"/><path d="M290.41 49.01L289.51 46.82" stroke="rgb(2,45,253)" stroke-width="7.8"/><path d="M289.73 47.32L288.75 45.15" stroke="rgb(4,4,251)" stroke-width="7.8"/><path d="M288.99 45.65L287.93 43.52" stroke="rgb(4,4,251)" stroke-width="7.8"/><path d="M288.18 44.00L287.05 41.91" stroke="rgb(4,4,251)" stroke-width="7.8"/><path d="M287.32 42.39L286.11 40.33" stroke="rgb(4,4,251)" stroke-width="7.8"/><path d="M286.40 40.80L285.11 38.78" stroke="rgb(4,4,251)" stroke-width="7.8"/><path d="M285.42 39.24L284.06 37.27" stroke="rgb(4,4,251)" stroke-width="7.8"/><path d="M284.38 37.72L282.95 35.80" stroke="rgb(4,4,251)" stroke-width="7.8"/><path d="M283.29 36.24L281.79 34.36" stroke="rgb(4,4,251)" stroke-width="7.8"/><path d="M282.15 34.79L280.58 32.96" stroke="rgb(4,4,251)" stroke-width="7.8"/><path d="M280.95 33.38L279.32 31.60" stroke="rgb(4,4,251)" stroke-width="7.8"/><path d="M279.70 32.01L278.01 30.29" stroke="rgb(4,4,251)" stroke-width="7.8"/></g>
</g>
<path d="M203.7 101.8L206.4 104.0L209.2 106.1L212.1 108.0L215.2 109.7L218.4 111.2L221.7 112.5L225.1 113.5L228.6 114.3L232.1 114.9L235.6 115.3L239.2 115.4L242.8 115.3L246.3 114.9L249.8 114.3L253.3 113.5L256.7 112.5L260.0 111.2L263.2 109.7L266.3 108.0L269.2 106.1L272.0 104.0L274.7 101.8" fill="none" stroke="#28c8f0" stroke-width="1.0" stroke-opacity="0.85" filter="url(#soft)"/>
</g>
<g fill="none"><path d="M41.20 257.78h3.6" stroke="#8a8a8a" stroke-width="0.8"/><path d="M41.20 250.66h3.6" stroke="#8a8a8a" stroke-width="0.8"/><path d="M41.20 243.53h3.6" stroke="#8a8a8a" stroke-width="0.8"/><path d="M41.20 236.41h3.6" stroke="#8a8a8a" stroke-width="0.8"/><path d="M41.20 229.29h3.6" stroke="#8a8a8a" stroke-width="0.8"/><path d="M41.20 222.17h6.0" stroke="#242424" stroke-width="1.15"/><path d="M41.20 215.04h3.6" stroke="#8a8a8a" stroke-width="0.8"/><path d="M41.20 207.92h3.6" stroke="#8a8a8a" stroke-width="0.8"/><path d="M41.20 200.80h3.6" stroke="#8a8a8a" stroke-width="0.8"/><path d="M41.20 193.68h3.6" stroke="#8a8a8a" stroke-width="0.8"/><path d="M41.20 186.56h3.6" stroke="#8a8a8a" stroke-width="0.8"/><path d="M41.20 179.43h6.0" stroke="#242424" stroke-width="1.15"/><path d="M41.20 172.31h3.6" stroke="#8a8a8a" stroke-width="0.8"/><path d="M41.20 165.19h3.6" stroke="#8a8a8a" stroke-width="0.8"/><path d="M41.20 158.07h3.6" stroke="#8a8a8a" stroke-width="0.8"/><path d="M41.20 150.94h3.6" stroke="#8a8a8a" stroke-width="0.8"/><path d="M41.20 143.82h3.6" stroke="#8a8a8a" stroke-width="0.8"/><path d="M41.20 136.70h6.0" stroke="#242424" stroke-width="1.15"/><path d="M41.20 129.58h3.6" stroke="#8a8a8a" stroke-width="0.8"/><path d="M41.20 122.46h3.6" stroke="#8a8a8a" stroke-width="0.8"/><path d="M41.20 115.33h3.6" stroke="#8a8a8a" stroke-width="0.8"/><path d="M41.20 108.21h3.6" stroke="#8a8a8a" stroke-width="0.8"/><path d="M41.20 101.09h3.6" stroke="#8a8a8a" stroke-width="0.8"/><path d="M41.20 93.97h6.0" stroke="#242424" stroke-width="1.15"/><path d="M41.20 86.84h3.6" stroke="#8a8a8a" stroke-width="0.8"/><path d="M41.20 79.72h3.6" stroke="#8a8a8a" stroke-width="0.8"/><path d="M41.20 72.60h3.6" stroke="#8a8a8a" stroke-width="0.8"/><path d="M41.20 65.48h3.6" stroke="#8a8a8a" stroke-width="0.8"/><path d="M41.20 58.36h3.6" stroke="#8a8a8a" stroke-width="0.8"/><path d="M41.20 51.23h6.0" stroke="#242424" stroke-width="1.15"/><path d="M41.20 44.11h3.6" stroke="#8a8a8a" stroke-width="0.8"/><path d="M41.20 36.99h3.6" stroke="#8a8a8a" stroke-width="0.8"/><path d="M41.20 29.87h3.6" stroke="#8a8a8a" stroke-width="0.8"/><path d="M41.20 22.74h3.6" stroke="#8a8a8a" stroke-width="0.8"/><path d="M41.20 15.62h3.6" stroke="#8a8a8a" stroke-width="0.8"/><path d="M50.27 264.30v-2.6" stroke="#8a8a8a" stroke-width="0.8"/><path d="M59.35 264.30v-2.6" stroke="#8a8a8a" stroke-width="0.8"/><path d="M68.42 264.30v-2.6" stroke="#8a8a8a" stroke-width="0.8"/><path d="M77.49 264.30v-2.6" stroke="#8a8a8a" stroke-width="0.8"/><path d="M86.57 264.30v-5.4" stroke="#242424" stroke-width="1.15"/><path d="M95.64 264.30v-2.6" stroke="#8a8a8a" stroke-width="0.8"/><path d="M104.71 264.30v-2.6" stroke="#8a8a8a" stroke-width="0.8"/><path d="M113.79 264.30v-2.6" stroke="#8a8a8a" stroke-width="0.8"/><path d="M122.86 264.30v-2.6" stroke="#8a8a8a" stroke-width="0.8"/><path d="M131.93 264.30v-5.4" stroke="#242424" stroke-width="1.15"/><path d="M141.01 264.30v-2.6" stroke="#8a8a8a" stroke-width="0.8"/><path d="M150.08 264.30v-2.6" stroke="#8a8a8a" stroke-width="0.8"/><path d="M159.15 264.30v-2.6" stroke="#8a8a8a" stroke-width="0.8"/><path d="M168.23 264.30v-2.6" stroke="#8a8a8a" stroke-width="0.8"/><path d="M177.30 264.30v-5.4" stroke="#242424" stroke-width="1.15"/><path d="M186.37 264.30v-2.6" stroke="#8a8a8a" stroke-width="0.8"/><path d="M195.45 264.30v-2.6" stroke="#8a8a8a" stroke-width="0.8"/><path d="M204.52 264.30v-2.6" stroke="#8a8a8a" stroke-width="0.8"/><path d="M213.59 264.30v-2.6" stroke="#8a8a8a" stroke-width="0.8"/><path d="M222.67 264.30v-5.4" stroke="#242424" stroke-width="1.15"/><path d="M231.74 264.30v-2.6" stroke="#8a8a8a" stroke-width="0.8"/><path d="M240.81 264.30v-2.6" stroke="#8a8a8a" stroke-width="0.8"/><path d="M249.89 264.30v-2.6" stroke="#8a8a8a" stroke-width="0.8"/><path d="M258.96 264.30v-2.6" stroke="#8a8a8a" stroke-width="0.8"/><path d="M268.03 264.30v-5.4" stroke="#242424" stroke-width="1.15"/><path d="M277.11 264.30v-2.6" stroke="#8a8a8a" stroke-width="0.8"/><path d="M286.18 264.30v-2.6" stroke="#8a8a8a" stroke-width="0.8"/><path d="M295.25 264.30v-2.6" stroke="#8a8a8a" stroke-width="0.8"/><path d="M304.33 264.30v-2.6" stroke="#8a8a8a" stroke-width="0.8"/></g>
<g fill="none"><path d="M399.75 257.78h3.6" stroke="#8a8a8a" stroke-width="0.8"/><path d="M399.75 250.66h3.6" stroke="#8a8a8a" stroke-width="0.8"/><path d="M399.75 243.53h3.6" stroke="#8a8a8a" stroke-width="0.8"/><path d="M399.75 236.41h3.6" stroke="#8a8a8a" stroke-width="0.8"/><path d="M399.75 229.29h3.6" stroke="#8a8a8a" stroke-width="0.8"/><path d="M399.75 222.17h6.0" stroke="#242424" stroke-width="1.15"/><path d="M399.75 215.04h3.6" stroke="#8a8a8a" stroke-width="0.8"/><path d="M399.75 207.92h3.6" stroke="#8a8a8a" stroke-width="0.8"/><path d="M399.75 200.80h3.6" stroke="#8a8a8a" stroke-width="0.8"/><path d="M399.75 193.68h3.6" stroke="#8a8a8a" stroke-width="0.8"/><path d="M399.75 186.56h3.6" stroke="#8a8a8a" stroke-width="0.8"/><path d="M399.75 179.43h6.0" stroke="#242424" stroke-width="1.15"/><path d="M399.75 172.31h3.6" stroke="#8a8a8a" stroke-width="0.8"/><path d="M399.75 165.19h3.6" stroke="#8a8a8a" stroke-width="0.8"/><path d="M399.75 158.07h3.6" stroke="#8a8a8a" stroke-width="0.8"/><path d="M399.75 150.94h3.6" stroke="#8a8a8a" stroke-width="0.8"/><path d="M399.75 143.82h3.6" stroke="#8a8a8a" stroke-width="0.8"/><path d="M399.75 136.70h6.0" stroke="#242424" stroke-width="1.15"/><path d="M399.75 129.58h3.6" stroke="#8a8a8a" stroke-width="0.8"/><path d="M399.75 122.46h3.6" stroke="#8a8a8a" stroke-width="0.8"/><path d="M399.75 115.33h3.6" stroke="#8a8a8a" stroke-width="0.8"/><path d="M399.75 108.21h3.6" stroke="#8a8a8a" stroke-width="0.8"/><path d="M399.75 101.09h3.6" stroke="#8a8a8a" stroke-width="0.8"/><path d="M399.75 93.97h6.0" stroke="#242424" stroke-width="1.15"/><path d="M399.75 86.84h3.6" stroke="#8a8a8a" stroke-width="0.8"/><path d="M399.75 79.72h3.6" stroke="#8a8a8a" stroke-width="0.8"/><path d="M399.75 72.60h3.6" stroke="#8a8a8a" stroke-width="0.8"/><path d="M399.75 65.48h3.6" stroke="#8a8a8a" stroke-width="0.8"/><path d="M399.75 58.36h3.6" stroke="#8a8a8a" stroke-width="0.8"/><path d="M399.75 51.23h6.0" stroke="#242424" stroke-width="1.15"/><path d="M399.75 44.11h3.6" stroke="#8a8a8a" stroke-width="0.8"/><path d="M399.75 36.99h3.6" stroke="#8a8a8a" stroke-width="0.8"/><path d="M399.75 29.87h3.6" stroke="#8a8a8a" stroke-width="0.8"/><path d="M399.75 22.74h3.6" stroke="#8a8a8a" stroke-width="0.8"/><path d="M399.75 15.62h3.6" stroke="#8a8a8a" stroke-width="0.8"/><path d="M407.53 264.30v-2.6" stroke="#8a8a8a" stroke-width="0.8"/><path d="M415.31 264.30v-2.6" stroke="#8a8a8a" stroke-width="0.8"/><path d="M423.09 264.30v-2.6" stroke="#8a8a8a" stroke-width="0.8"/><path d="M430.86 264.30v-2.6" stroke="#8a8a8a" stroke-width="0.8"/><path d="M438.64 264.30v-5.4" stroke="#242424" stroke-width="1.15"/><path d="M446.42 264.30v-2.6" stroke="#8a8a8a" stroke-width="0.8"/><path d="M454.20 264.30v-2.6" stroke="#8a8a8a" stroke-width="0.8"/><path d="M461.98 264.30v-2.6" stroke="#8a8a8a" stroke-width="0.8"/><path d="M469.76 264.30v-2.6" stroke="#8a8a8a" stroke-width="0.8"/><path d="M477.54 264.30v-5.4" stroke="#242424" stroke-width="1.15"/><path d="M485.31 264.30v-2.6" stroke="#8a8a8a" stroke-width="0.8"/><path d="M493.09 264.30v-2.6" stroke="#8a8a8a" stroke-width="0.8"/><path d="M500.87 264.30v-2.6" stroke="#8a8a8a" stroke-width="0.8"/><path d="M508.65 264.30v-2.6" stroke="#8a8a8a" stroke-width="0.8"/><path d="M516.43 264.30v-5.4" stroke="#242424" stroke-width="1.15"/><path d="M524.21 264.30v-2.6" stroke="#8a8a8a" stroke-width="0.8"/><path d="M531.99 264.30v-2.6" stroke="#8a8a8a" stroke-width="0.8"/><path d="M539.76 264.30v-2.6" stroke="#8a8a8a" stroke-width="0.8"/><path d="M547.54 264.30v-2.6" stroke="#8a8a8a" stroke-width="0.8"/><path d="M555.32 264.30v-5.4" stroke="#242424" stroke-width="1.15"/><path d="M563.10 264.30v-2.6" stroke="#8a8a8a" stroke-width="0.8"/><path d="M570.88 264.30v-2.6" stroke="#8a8a8a" stroke-width="0.8"/><path d="M578.66 264.30v-2.6" stroke="#8a8a8a" stroke-width="0.8"/><path d="M586.44 264.30v-2.6" stroke="#8a8a8a" stroke-width="0.8"/><path d="M594.21 264.30v-5.4" stroke="#242424" stroke-width="1.15"/><path d="M601.99 264.30v-2.6" stroke="#8a8a8a" stroke-width="0.8"/><path d="M609.77 264.30v-2.6" stroke="#8a8a8a" stroke-width="0.8"/><path d="M617.55 264.30v-2.6" stroke="#8a8a8a" stroke-width="0.8"/><path d="M625.33 264.30v-2.6" stroke="#8a8a8a" stroke-width="0.8"/><path d="M633.11 264.30v-5.4" stroke="#242424" stroke-width="1.15"/><path d="M640.89 264.30v-2.6" stroke="#8a8a8a" stroke-width="0.8"/><path d="M648.66 264.30v-2.6" stroke="#8a8a8a" stroke-width="0.8"/><path d="M656.44 264.30v-2.6" stroke="#8a8a8a" stroke-width="0.8"/><path d="M664.22 264.30v-2.6" stroke="#8a8a8a" stroke-width="0.8"/></g>
<rect x="41.20" y="8.65" width="272.20" height="255.65" fill="none" stroke="#242424" stroke-width="1.45"/>
<rect x="399.75" y="8.65" width="272.25" height="255.65" fill="none" stroke="#242424" stroke-width="1.45"/>
<g font-size="12.8">
<text x="37.4" y="269.2" text-anchor="end">0.8</text>
<text x="37.4" y="226.5" text-anchor="end">1.0</text>
<text x="37.4" y="183.7" text-anchor="end">1.2</text>
<text x="37.4" y="141.0" text-anchor="end">1.4</text>
<text x="37.4" y="98.3" text-anchor="end">1.6</text>
<text x="37.4" y="55.5" text-anchor="end">1.8</text>
<text x="37.4" y="12.8" text-anchor="end">2.0</text>
<text x="40.6" y="279.6" text-anchor="middle">0.0</text>
<text x="86.0" y="279.6" text-anchor="middle">0.5</text>
<text x="131.3" y="279.6" text-anchor="middle">1.0</text>
<text x="176.7" y="279.6" text-anchor="middle">1.5</text>
<text x="222.1" y="279.6" text-anchor="middle">2.0</text>
<text x="267.4" y="279.6" text-anchor="middle">2.5</text>
<text x="312.8" y="279.6" text-anchor="middle">3.0</text>
<text x="392.4" y="269.2" text-anchor="end">55</text>
<text x="392.4" y="226.5" text-anchor="end">60</text>
<text x="392.4" y="183.7" text-anchor="end">65</text>
<text x="392.4" y="141.0" text-anchor="end">70</text>
<text x="392.4" y="98.3" text-anchor="end">75</text>
<text x="392.4" y="55.5" text-anchor="end">80</text>
<text x="392.4" y="12.8" text-anchor="end">85</text>
<text x="399.1" y="279.6" text-anchor="middle">300</text>
<text x="438.0" y="279.6" text-anchor="middle">350</text>
<text x="476.9" y="279.6" text-anchor="middle">400</text>
<text x="515.8" y="279.6" text-anchor="middle">450</text>
<text x="554.7" y="279.6" text-anchor="middle">500</text>
<text x="593.6" y="279.6" text-anchor="middle">550</text>
<text x="632.5" y="279.6" text-anchor="middle">600</text>
<text x="671.4" y="279.6" text-anchor="middle">650</text>
</g>
<text class="b" font-size="10.3" text-anchor="middle" transform="translate(11.6 136.8) rotate(-90)">PEC</text>
<text class="b" font-size="10.5" text-anchor="middle" transform="translate(177.2 296.6) scale(1.09 1)">Re(X10<tspan font-size="6.5" dy="-4.4">5</tspan><tspan dy="4.4">)</tspan></text>
<text class="b" font-size="12" text-anchor="middle" x="172.3" y="314.5">(a)</text>
<text class="b" font-size="11" text-anchor="middle" textLength="118.2" lengthAdjust="spacingAndGlyphs" transform="translate(372.9 136.2) rotate(-90)">Thermal efficiency (%)</text>
<text class="b" font-size="11" text-anchor="middle" textLength="113.2" lengthAdjust="spacingAndGlyphs" x="535.9" y="294.0">Inlet temperature (K)</text>
<text class="b" font-size="12" text-anchor="middle" x="539.6" y="310.7">(b)</text>
<path d="M63.8 222.2L87.1 222.2L110.5 222.2L133.8 222.2L157.2 222.2L180.5 222.2L203.8 222.2L227.2 222.2L250.5 222.2L273.9 222.2L297.2 222.2" fill="none" stroke="#000000" stroke-width="1.00" stroke-linejoin="round"/>
<g fill="#000000"><rect x="61.3" y="219.7" width="5.0" height="5.0"/><rect x="84.6" y="219.7" width="5.0" height="5.0"/><rect x="108.0" y="219.7" width="5.0" height="5.0"/><rect x="131.3" y="219.7" width="5.0" height="5.0"/><rect x="154.7" y="219.7" width="5.0" height="5.0"/><rect x="178.0" y="219.7" width="5.0" height="5.0"/><rect x="201.3" y="219.7" width="5.0" height="5.0"/><rect x="224.7" y="219.7" width="5.0" height="5.0"/><rect x="248.0" y="219.7" width="5.0" height="5.0"/><rect x="271.4" y="219.7" width="5.0" height="5.0"/><rect x="294.7" y="219.7" width="5.0" height="5.0"/></g>
<path d="M63.8 181.7L87.1 188.8L110.5 196.8L133.8 199.9L157.2 204.4L180.5 205.8L203.8 206.6L227.2 206.2L250.5 205.6L273.9 205.2L297.2 204.8" fill="none" stroke="#3434ff" stroke-width="1.30" stroke-linejoin="round"/>
<g fill="#3434ff"><rect x="61.2" y="179.1" width="5.2" height="5.2"/><rect x="84.5" y="186.2" width="5.2" height="5.2"/><rect x="107.9" y="194.2" width="5.2" height="5.2"/><rect x="131.2" y="197.3" width="5.2" height="5.2"/><rect x="154.6" y="201.8" width="5.2" height="5.2"/><rect x="177.9" y="203.2" width="5.2" height="5.2"/><rect x="201.2" y="204.0" width="5.2" height="5.2"/><rect x="224.6" y="203.6" width="5.2" height="5.2"/><rect x="247.9" y="203.0" width="5.2" height="5.2"/><rect x="271.3" y="202.6" width="5.2" height="5.2"/><rect x="294.6" y="202.2" width="5.2" height="5.2"/></g>
<path d="M63.8 174.7L87.1 174.1L110.5 173.5L133.8 174.1L157.2 174.9L180.5 175.5L203.8 174.6L227.2 171.0L250.5 167.8L273.9 165.1L297.2 163.1" fill="none" stroke="#c81818" stroke-width="1.40" stroke-linejoin="round"/>
<g fill="#cc1414"><rect x="61.2" y="172.1" width="5.2" height="5.2"/><rect x="84.5" y="171.5" width="5.2" height="5.2"/><rect x="107.9" y="170.9" width="5.2" height="5.2"/><rect x="131.2" y="171.5" width="5.2" height="5.2"/><rect x="154.6" y="172.3" width="5.2" height="5.2"/><rect x="177.9" y="172.9" width="5.2" height="5.2"/><rect x="201.2" y="172.0" width="5.2" height="5.2"/><rect x="224.6" y="168.4" width="5.2" height="5.2"/><rect x="247.9" y="165.2" width="5.2" height="5.2"/><rect x="271.3" y="162.5" width="5.2" height="5.2"/><rect x="294.6" y="160.5" width="5.2" height="5.2"/></g>
<path d="M64.6 137.5H107.6" stroke="#000000" stroke-width="1.00" fill="none"/>
<rect x="84.0" y="135.1" width="4.8" height="4.8" fill="#000000"/>
<path d="M64.6 148.6H107.6" stroke="#3434ff" stroke-width="1.20" fill="none"/>
<rect x="84.0" y="146.2" width="4.8" height="4.8" fill="#3434ff"/>
<path d="M64.6 160.0H107.6" stroke="#d03c3c" stroke-width="1.00" fill="none"/>
<rect x="84.0" y="157.6" width="4.8" height="4.8" fill="#cc1414"/>
<text class="b" font-size="8.2" x="115.2" y="140.4" textLength="17.5" lengthAdjust="spacingAndGlyphs">AT1</text>
<text class="b" font-size="8.2" x="115.2" y="151.5" textLength="17.5" lengthAdjust="spacingAndGlyphs">AT2</text>
<text class="b" font-size="8.2" x="115.2" y="162.9" textLength="17.5" lengthAdjust="spacingAndGlyphs">AT3</text>
<path d="M399.8 113.7C406.2 114.1 425.7 114.8 438.6 115.9C451.6 117.0 464.6 118.5 477.5 120.3C490.5 122.1 503.5 123.9 516.4 126.6C529.4 129.3 542.4 132.8 555.3 136.3C568.3 139.8 581.2 144.0 594.2 147.7C607.2 151.4 620.1 154.9 633.1 158.7C646.1 162.5 665.5 168.4 672.0 170.3" fill="none" stroke="#000000" stroke-width="1.10" stroke-linejoin="round"/>
<g fill="#000000"><rect x="396.8" y="110.7" width="6.0" height="6.0"/><rect x="435.6" y="112.9" width="6.0" height="6.0"/><rect x="474.5" y="117.3" width="6.0" height="6.0"/><rect x="513.4" y="123.6" width="6.0" height="6.0"/><rect x="552.3" y="133.3" width="6.0" height="6.0"/><rect x="591.2" y="144.7" width="6.0" height="6.0"/><rect x="630.1" y="155.7" width="6.0" height="6.0"/><rect x="669.0" y="167.3" width="6.0" height="6.0"/></g>
<path d="M399.8 110.8C406.2 111.2 425.7 112.2 438.6 113.5C451.6 114.8 464.6 116.6 477.5 118.5C490.5 120.4 503.5 122.4 516.4 125.1C529.4 127.8 542.4 131.1 555.3 134.6C568.3 138.1 581.2 142.5 594.2 146.2C607.2 149.9 620.1 153.1 633.1 156.9C646.1 160.7 665.5 166.8 672.0 168.8" fill="none" stroke="#2c2cff" stroke-width="1.20" stroke-linejoin="round"/>
<g fill="#2c2cff"><rect x="396.8" y="107.8" width="6.0" height="6.0"/><rect x="435.6" y="110.5" width="6.0" height="6.0"/><rect x="474.5" y="115.5" width="6.0" height="6.0"/><rect x="513.4" y="122.1" width="6.0" height="6.0"/><rect x="552.3" y="131.6" width="6.0" height="6.0"/><rect x="591.2" y="143.2" width="6.0" height="6.0"/><rect x="630.1" y="153.9" width="6.0" height="6.0"/><rect x="669.0" y="165.8" width="6.0" height="6.0"/></g>
<path d="M399.8 106.9C406.2 107.5 425.7 108.8 438.6 110.4C451.6 112.0 464.6 114.2 477.5 116.3C490.5 118.4 503.5 120.2 516.4 122.9C529.4 125.6 542.4 128.9 555.3 132.4C568.3 135.9 581.2 140.2 594.2 144.0C607.2 147.8 620.1 151.3 633.1 155.2C646.1 159.1 665.5 165.4 672.0 167.5" fill="none" stroke="#cc1010" stroke-width="1.20" stroke-linejoin="round"/>
<g fill="#cc0a0a"><rect x="396.8" y="103.9" width="6.0" height="6.0"/><rect x="435.6" y="107.4" width="6.0" height="6.0"/><rect x="474.5" y="113.3" width="6.0" height="6.0"/><rect x="513.4" y="119.9" width="6.0" height="6.0"/><rect x="552.3" y="129.4" width="6.0" height="6.0"/><rect x="591.2" y="141.0" width="6.0" height="6.0"/><rect x="630.1" y="152.2" width="6.0" height="6.0"/><rect x="669.0" y="164.5" width="6.0" height="6.0"/></g>
<path d="M579.7 39.6H622.8" stroke="#000000" stroke-width="1.00" fill="none"/>
<rect x="598.8" y="36.9" width="5.5" height="5.5" fill="#000000"/>
<path d="M579.7 50.3H622.8" stroke="#3434ff" stroke-width="1.10" fill="none"/>
<rect x="598.8" y="47.5" width="5.5" height="5.5" fill="#3434ff"/>
<path d="M579.7 62.0H622.8" stroke="#c81414" stroke-width="1.30" fill="none"/>
<rect x="598.8" y="59.2" width="5.5" height="5.5" fill="#cc1414"/>
<text class="b" font-size="8.2" x="630.8" y="42.3" textLength="17.5" lengthAdjust="spacingAndGlyphs">AT1</text>
<text class="b" font-size="8.2" x="630.8" y="53.0" textLength="17.5" lengthAdjust="spacingAndGlyphs">AT2</text>
<text class="b" font-size="8.2" x="630.8" y="64.6" textLength="17.5" lengthAdjust="spacingAndGlyphs">AT3</text>
<circle cx="437.4" cy="159.9" r="0.7" fill="#808080" opacity="0.8"/>
</svg></body></html>
